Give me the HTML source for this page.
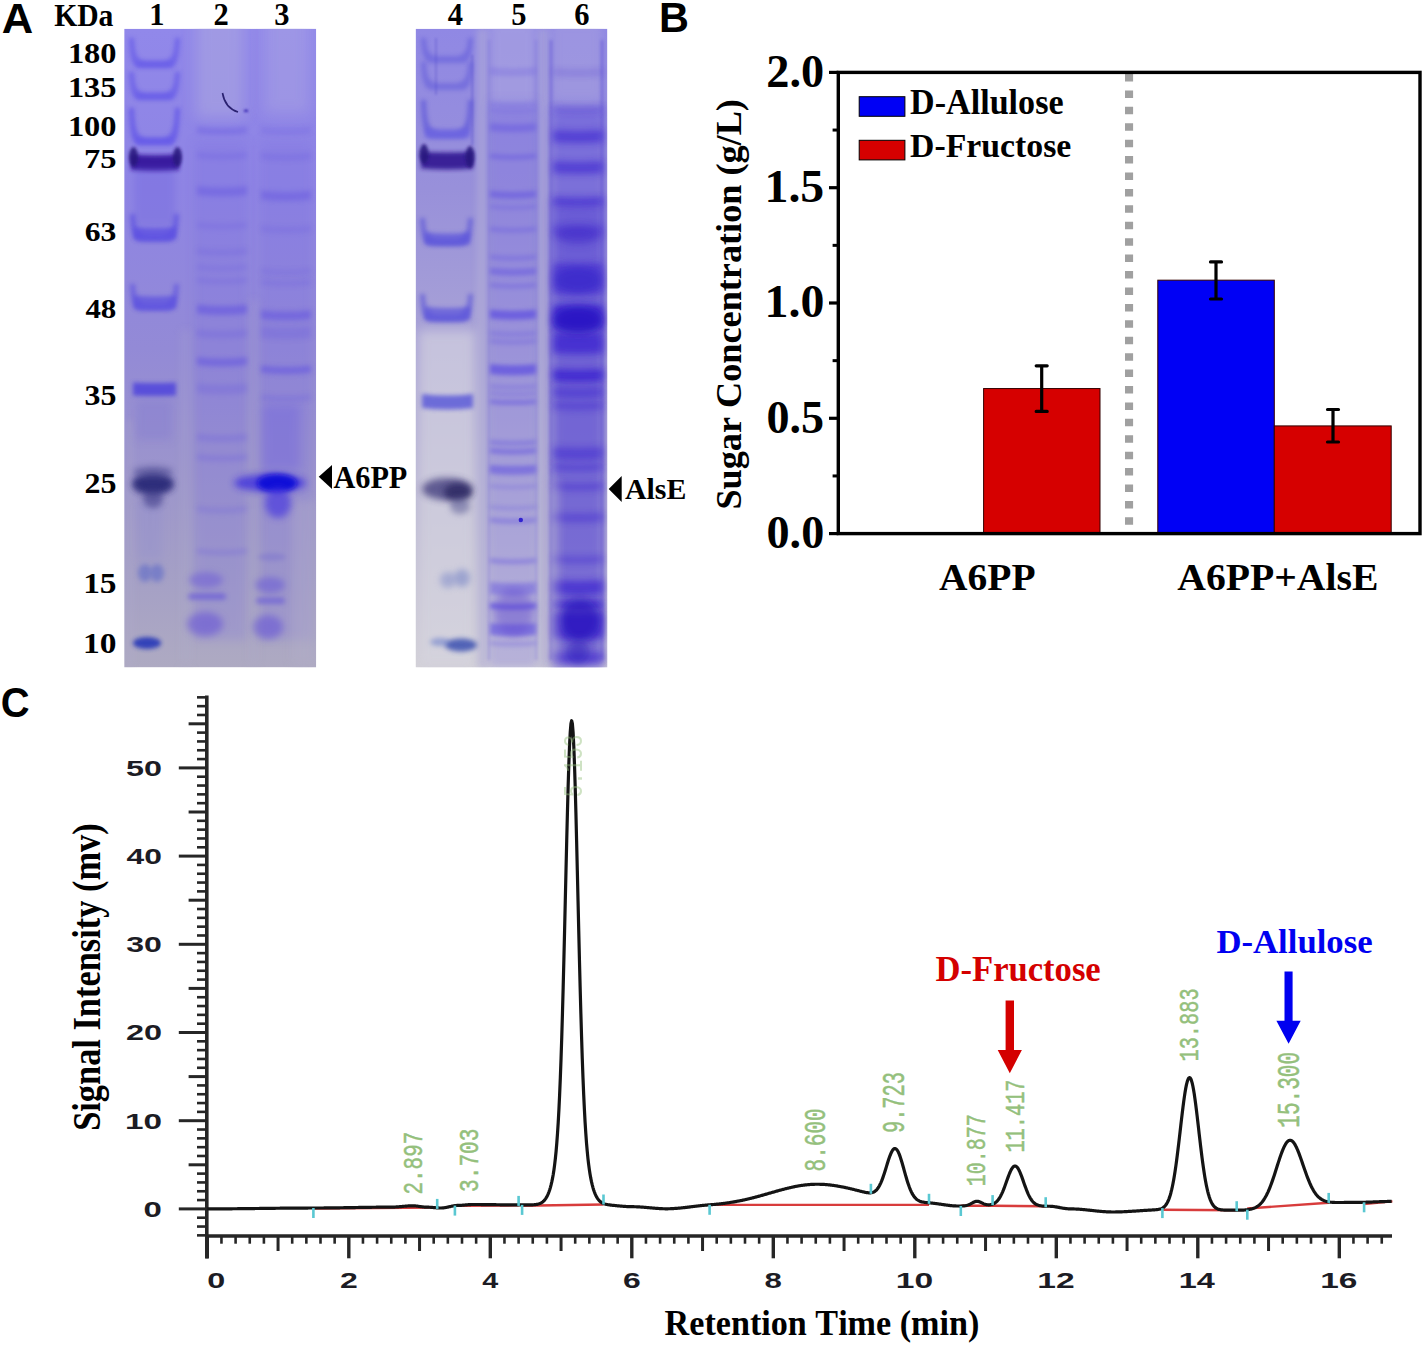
<!DOCTYPE html>
<html><head><meta charset="utf-8"><style>
html,body{margin:0;padding:0;background:#fff;width:1425px;height:1346px;overflow:hidden}
svg{display:block}
</style></head><body>
<svg width="1425" height="1346" viewBox="0 0 1425 1346">
<rect width="1425" height="1346" fill="#fff"/>
<text transform="translate(1.72,33.00) scale(1.0151,1)" style='font-family:"Liberation Sans", sans-serif;font-weight:bold;font-size:42.88px;font-kerning:none' fill="#000" >A</text>
<text transform="translate(659.12,32.00) scale(0.9610,1)" style='font-family:"Liberation Sans", sans-serif;font-weight:bold;font-size:43.17px;font-kerning:none' fill="#000" >B</text>
<text transform="translate(0.86,716.50) scale(0.9471,1)" style='font-family:"Liberation Sans", sans-serif;font-weight:bold;font-size:42.15px;font-kerning:none' fill="#000" >C</text>
<text transform="translate(54.19,26.00) scale(0.9513,1)" style='font-family:"Liberation Serif", serif;font-weight:bold;font-size:31.15px;font-kerning:none' fill="#000" >KDa</text>
<text transform="translate(149.24,24.50) scale(1.0000,1)" style='font-family:"Liberation Serif", serif;font-weight:bold;font-size:30.53px;font-kerning:none' fill="#000" >1</text>
<text transform="translate(213.38,24.50) scale(1.0000,1)" style='font-family:"Liberation Serif", serif;font-weight:bold;font-size:30.53px;font-kerning:none' fill="#000" >2</text>
<text transform="translate(274.32,24.50) scale(1.0000,1)" style='font-family:"Liberation Serif", serif;font-weight:bold;font-size:30.53px;font-kerning:none' fill="#000" >3</text>
<text transform="translate(447.84,24.50) scale(1.0000,1)" style='font-family:"Liberation Serif", serif;font-weight:bold;font-size:30.53px;font-kerning:none' fill="#000" >4</text>
<text transform="translate(511.32,24.50) scale(1.0000,1)" style='font-family:"Liberation Serif", serif;font-weight:bold;font-size:30.53px;font-kerning:none' fill="#000" >5</text>
<text transform="translate(574.29,24.50) scale(1.0000,1)" style='font-family:"Liberation Serif", serif;font-weight:bold;font-size:30.53px;font-kerning:none' fill="#000" >6</text>
<text transform="translate(67.90,63.20) scale(1.0944,1)" style='font-family:"Liberation Serif", serif;font-weight:bold;font-size:29.62px;font-kerning:none' fill="#000" >180</text>
<text transform="translate(67.91,96.80) scale(1.0988,1)" style='font-family:"Liberation Serif", serif;font-weight:bold;font-size:29.47px;font-kerning:none' fill="#000" >135</text>
<text transform="translate(67.90,136.30) scale(1.1000,1)" style='font-family:"Liberation Serif", serif;font-weight:bold;font-size:29.47px;font-kerning:none' fill="#000" >100</text>
<text transform="translate(83.94,168.40) scale(1.1576,1)" style='font-family:"Liberation Serif", serif;font-weight:bold;font-size:28.12px;font-kerning:none' fill="#000" >75</text>
<text transform="translate(84.72,241.40) scale(1.1260,1)" style='font-family:"Liberation Serif", serif;font-weight:bold;font-size:28.12px;font-kerning:none' fill="#000" >63</text>
<text transform="translate(85.38,318.00) scale(1.1007,1)" style='font-family:"Liberation Serif", serif;font-weight:bold;font-size:28.12px;font-kerning:none' fill="#000" >48</text>
<text transform="translate(84.60,404.50) scale(1.0595,1)" style='font-family:"Liberation Serif", serif;font-weight:bold;font-size:30.08px;font-kerning:none' fill="#000" >35</text>
<text transform="translate(84.46,492.60) scale(1.0593,1)" style='font-family:"Liberation Serif", serif;font-weight:bold;font-size:30.23px;font-kerning:none' fill="#000" >25</text>
<text transform="translate(83.13,593.00) scale(1.1689,1)" style='font-family:"Liberation Serif", serif;font-weight:bold;font-size:28.57px;font-kerning:none' fill="#000" >15</text>
<text transform="translate(83.12,653.00) scale(1.1709,1)" style='font-family:"Liberation Serif", serif;font-weight:bold;font-size:28.57px;font-kerning:none' fill="#000" >10</text>
<path d="M318.7,476.8 L332,465 L332,488.9 Z" fill="#000"/>
<text transform="translate(333.40,487.50) scale(0.9812,1)" style='font-family:"Liberation Serif", serif;font-weight:bold;font-size:30.84px;font-kerning:none' fill="#000" >A6PP</text>
<path d="M608.7,489.1 L621.7,476.1 L621.7,502.1 Z" fill="#000"/>
<text transform="translate(624.91,498.60) scale(0.9983,1)" style='font-family:"Liberation Serif", serif;font-weight:bold;font-size:29.92px;font-kerning:none' fill="#000" >AlsE</text>
<defs><clipPath id="cg1"><rect x="124.2" y="28.7" width="192.0" height="638.6999999999999"/></clipPath><clipPath id="cg2"><rect x="415.6" y="28.7" width="191.79999999999995" height="638.6999999999999"/></clipPath><linearGradient id="g1bg" x1="0" y1="0" x2="0" y2="1"><stop offset="0" stop-color="#9188ea"/><stop offset="0.25" stop-color="#8e84e4"/><stop offset="0.5" stop-color="#938ad6"/><stop offset="0.7" stop-color="#9c95cc"/><stop offset="0.85" stop-color="#a49fc6"/><stop offset="1" stop-color="#aeaac2"/></linearGradient><linearGradient id="g1gap" x1="0" y1="0" x2="0" y2="1"><stop offset="0" stop-color="#9890e0"/><stop offset="0.4" stop-color="#a19ad4"/><stop offset="1" stop-color="#b2aec8"/></linearGradient><linearGradient id="g1lane" x1="0" y1="0" x2="0" y2="1"><stop offset="0" stop-color="#7464e0"/><stop offset="1" stop-color="#7464e0"/></linearGradient><linearGradient id="g2bg" x1="0" y1="0" x2="0" y2="1"><stop offset="0" stop-color="#9088e4"/><stop offset="0.25" stop-color="#9890da"/><stop offset="0.5" stop-color="#a9a3d6"/><stop offset="0.75" stop-color="#bcb9d4"/><stop offset="1" stop-color="#d2d0d6"/></linearGradient><filter id="b0_6" filterUnits="userSpaceOnUse" x="110" y="20" width="510" height="660"><feGaussianBlur stdDeviation="0.6"/></filter><filter id="b0_8" filterUnits="userSpaceOnUse" x="110" y="20" width="510" height="660"><feGaussianBlur stdDeviation="0.8"/></filter><filter id="b1" filterUnits="userSpaceOnUse" x="110" y="20" width="510" height="660"><feGaussianBlur stdDeviation="1"/></filter><filter id="b1_5" filterUnits="userSpaceOnUse" x="110" y="20" width="510" height="660"><feGaussianBlur stdDeviation="1.5"/></filter><filter id="b1_8" filterUnits="userSpaceOnUse" x="110" y="20" width="510" height="660"><feGaussianBlur stdDeviation="1.8"/></filter><filter id="b2" filterUnits="userSpaceOnUse" x="110" y="20" width="510" height="660"><feGaussianBlur stdDeviation="2"/></filter><filter id="b2_2" filterUnits="userSpaceOnUse" x="110" y="20" width="510" height="660"><feGaussianBlur stdDeviation="2.2"/></filter><filter id="b2_4" filterUnits="userSpaceOnUse" x="110" y="20" width="510" height="660"><feGaussianBlur stdDeviation="2.4"/></filter><filter id="b2_5" filterUnits="userSpaceOnUse" x="110" y="20" width="510" height="660"><feGaussianBlur stdDeviation="2.5"/></filter><filter id="b3" filterUnits="userSpaceOnUse" x="110" y="20" width="510" height="660"><feGaussianBlur stdDeviation="3"/></filter><filter id="b3_5" filterUnits="userSpaceOnUse" x="110" y="20" width="510" height="660"><feGaussianBlur stdDeviation="3.5"/></filter><filter id="b4" filterUnits="userSpaceOnUse" x="110" y="20" width="510" height="660"><feGaussianBlur stdDeviation="4"/></filter><filter id="b5" filterUnits="userSpaceOnUse" x="110" y="20" width="510" height="660"><feGaussianBlur stdDeviation="5"/></filter><filter id="b6" filterUnits="userSpaceOnUse" x="110" y="20" width="510" height="660"><feGaussianBlur stdDeviation="6"/></filter><filter id="b7" filterUnits="userSpaceOnUse" x="110" y="20" width="510" height="660"><feGaussianBlur stdDeviation="7"/></filter></defs><g clip-path="url(#cg1)">
<rect x="124.2" y="28.7" width="192.0" height="638.6999999999999" fill="url(#g1bg)" opacity="1.0"/>
<rect x="196" y="10" width="48" height="108" fill="#aaa5e0" opacity="0.6" filter="url(#b7)"/>
<rect x="264" y="10" width="46" height="104" fill="#a9a3e2" opacity="0.5" filter="url(#b7)"/>
<rect x="194" y="140" width="53" height="500" fill="#7a6ee0" opacity="0.22" filter="url(#b5)"/>
<rect x="260" y="140" width="52" height="500" fill="#7a6ee0" opacity="0.22" filter="url(#b5)"/>
<rect x="181" y="330" width="10" height="338" fill="#b4b0cc" opacity="0.2" filter="url(#b4)"/>
<rect x="249" y="300" width="9" height="368" fill="#b0accc" opacity="0.22" filter="url(#b4)"/>
<rect x="126" y="420" width="7" height="248" fill="#b0accc" opacity="0.3" filter="url(#b3)"/>
<rect x="292" y="500" width="24" height="168" fill="#b2aec8" opacity="0.4" filter="url(#b5)"/>
<path d="M129,38 C130,62 133,68 141,68 L168,68 C176,68 179,62 180,38 L175,38 C174,60 170,62 154.5,61 C139,62 135,60 134,38 Z" fill="#5a4ee8" opacity="0.55" filter="url(#b2_2)"/>
<rect x="136" y="61.0" width="37" height="6" rx="3.0" fill="#6458ea" opacity="0.44000000000000006" filter="url(#b2)"/>
<path d="M129,72 C130,94 133,100 141,100 L168,100 C176,100 179,94 180,72 L175,72 C174,92 170,94 154.5,93 C139,94 135,92 134,72 Z" fill="#5a4ee8" opacity="0.55" filter="url(#b2_2)"/>
<rect x="136" y="93.0" width="37" height="6" rx="3.0" fill="#6458ea" opacity="0.44000000000000006" filter="url(#b2)"/>
<path d="M129,108 C130,139 133,145 141,145 L168,145 C176,145 179,139 180,108 L175,108 C174,137 170,139 154.5,138 C139,139 135,137 134,108 Z" fill="#5a4ee8" opacity="0.65" filter="url(#b2_2)"/>
<rect x="136" y="138.0" width="37" height="6" rx="3.0" fill="#6458ea" opacity="0.52" filter="url(#b2)"/>
<path d="M131,154.0 Q155.0,156.4 179,154.0 L179,170.0 Q155.0,172.4 131,170.0 Z" fill="#36189c" opacity="0.95" filter="url(#b2)"/>
<ellipse cx="133.5" cy="157" rx="4.5" ry="10" fill="#28127c" opacity="0.85" filter="url(#b1_8)"/>
<ellipse cx="177.5" cy="157" rx="4.5" ry="10" fill="#28127c" opacity="0.85" filter="url(#b1_8)"/>
<rect x="134" y="168" width="41" height="58" fill="#6a5ee0" opacity="0.3" filter="url(#b3)"/>
<rect x="138" y="500" width="24" height="60" fill="#8a88d0" opacity="0.25" filter="url(#b4)"/>
<path d="M130,214 C131,236 134,242 142,242 L167,242 C175,242 178,236 179,214 L174,214 C173,234 169,236 154.5,235 C140,236 136,234 135,214 Z" fill="#5448e0" opacity="0.6" filter="url(#b2_2)"/>
<path d="M134,227.0 Q155.0,229.0 176,227.0 L176,239.0 Q155.0,241.0 134,239.0 Z" fill="#5a4ee2" opacity="0.75" filter="url(#b2_2)"/>
<path d="M130,284 C131,305 134,311 142,311 L167,311 C175,311 178,305 179,284 L174,284 C173,303 169,305 154.5,304 C140,305 136,303 135,284 Z" fill="#5448e0" opacity="0.55" filter="url(#b2_2)"/>
<path d="M134,295.5 Q155.0,297.5 176,295.5 L176,308.5 Q155.0,310.5 134,308.5 Z" fill="#5a50e0" opacity="0.7" filter="url(#b2_2)"/>
<path d="M133,382.5 Q154.5,383.5 176,382.5 L176,395.5 Q154.5,396.5 133,395.5 Z" fill="#5044dc" opacity="0.85" filter="url(#b2)"/>
<rect x="136" y="400" width="36" height="40" fill="#8078d0" opacity="0.35" filter="url(#b4)"/>
<ellipse cx="153" cy="484" rx="21" ry="11" fill="#2c2a78" opacity="0.95" filter="url(#b3)"/>
<ellipse cx="153" cy="472" rx="20" ry="6" fill="#484690" opacity="0.55" filter="url(#b3)"/>
<ellipse cx="153" cy="499" rx="10" ry="9" fill="#3c3a88" opacity="0.6" filter="url(#b3)"/>
<ellipse cx="145" cy="573" rx="7" ry="9" fill="#6c74c8" opacity="0.75" filter="url(#b2_5)"/>
<ellipse cx="157" cy="573" rx="7" ry="9" fill="#6c74c8" opacity="0.75" filter="url(#b2_5)"/>
<ellipse cx="147" cy="643" rx="14" ry="6" fill="#2838b8" opacity="0.9" filter="url(#b2_2)"/>
<path d="M222.5,93 Q225,108 238,112" stroke="#2a2070" stroke-width="1.6" fill="none" filter="url(#b0_6)"/>
<ellipse cx="246" cy="110.8" rx="2.5" ry="1.5" fill="#3828b0" opacity="0.8" filter="url(#b0_8)"/>
<path d="M197,126.19999999999999 Q222.0,129.2 247,126.19999999999999 L247,133.2 Q222.0,136.2 197,133.2 Z" fill="#6454e0" opacity="0.36000000000000004" filter="url(#b2_4)"/>
<path d="M197,152.0 Q222.0,155.0 247,152.0 L247,158.0 Q222.0,161.0 197,158.0 Z" fill="#6454e0" opacity="0.24" filter="url(#b2_4)"/>
<path d="M197,186.0 Q222.0,189.0 247,186.0 L247,195.0 Q222.0,198.0 197,195.0 Z" fill="#6454e0" opacity="0.44000000000000006" filter="url(#b2_4)"/>
<path d="M197,222.0 Q222.0,225.0 247,222.0 L247,228.0 Q222.0,231.0 197,228.0 Z" fill="#6454e0" opacity="0.2" filter="url(#b2_4)"/>
<path d="M197,248.0 Q222.0,251.0 247,248.0 L247,254.0 Q222.0,257.0 197,254.0 Z" fill="#6454e0" opacity="0.2" filter="url(#b2_4)"/>
<path d="M197,264.5 Q222.0,267.5 247,264.5 L247,269.5 Q222.0,272.5 197,269.5 Z" fill="#6454e0" opacity="0.2" filter="url(#b2_4)"/>
<path d="M197,277.5 Q222.0,280.5 247,277.5 L247,282.5 Q222.0,285.5 197,282.5 Z" fill="#6454e0" opacity="0.22400000000000003" filter="url(#b2_4)"/>
<path d="M197,304.5 Q222.0,307.5 247,304.5 L247,313.5 Q222.0,316.5 197,313.5 Z" fill="#6454e0" opacity="0.6000000000000001" filter="url(#b2_4)"/>
<path d="M197,329.0 Q222.0,332.0 247,329.0 L247,337.0 Q222.0,340.0 197,337.0 Z" fill="#6454e0" opacity="0.24" filter="url(#b2_4)"/>
<path d="M197,357.0 Q222.0,360.0 247,357.0 L247,365.0 Q222.0,368.0 197,365.0 Z" fill="#6454e0" opacity="0.5599999999999999" filter="url(#b2_4)"/>
<path d="M197,383.0 Q222.0,386.0 247,383.0 L247,393.0 Q222.0,396.0 197,393.0 Z" fill="#6454e0" opacity="0.24" filter="url(#b2_4)"/>
<path d="M197,433.5 Q222.0,436.5 247,433.5 L247,440.5 Q222.0,443.5 197,440.5 Z" fill="#6454e0" opacity="0.24" filter="url(#b2_4)"/>
<path d="M197,454.0 Q222.0,457.0 247,454.0 L247,460.0 Q222.0,463.0 197,460.0 Z" fill="#6454e0" opacity="0.24" filter="url(#b2_4)"/>
<path d="M197,506.0 Q222.0,509.0 247,506.0 L247,512.0 Q222.0,515.0 197,512.0 Z" fill="#6454e0" opacity="0.2" filter="url(#b2_4)"/>
<path d="M197,548.5 Q222.0,551.5 247,548.5 L247,553.5 Q222.0,556.5 197,553.5 Z" fill="#6454e0" opacity="0.24" filter="url(#b2_4)"/>
<ellipse cx="206" cy="580" rx="17" ry="8" fill="#6a58d8" opacity="0.5" filter="url(#b3)"/>
<rect x="188" y="593.5" width="38" height="6" rx="3.0" fill="#5a48dc" opacity="0.6" filter="url(#b2_4)"/>
<ellipse cx="205" cy="624" rx="18" ry="12" fill="#6450d8" opacity="0.55" filter="url(#b3_5)"/>
<path d="M261,127.0 Q286.0,130.0 311,127.0 L311,133.0 Q286.0,136.0 261,133.0 Z" fill="#6454e0" opacity="0.24" filter="url(#b2_4)"/>
<path d="M261,153.0 Q286.0,156.0 311,153.0 L311,159.0 Q286.0,162.0 261,159.0 Z" fill="#6454e0" opacity="0.24" filter="url(#b2_4)"/>
<path d="M261,190.5 Q286.0,193.5 311,190.5 L311,199.5 Q286.0,202.5 261,199.5 Z" fill="#6454e0" opacity="0.44000000000000006" filter="url(#b2_4)"/>
<path d="M261,225.4 Q286.0,228.4 311,225.4 L311,231.4 Q286.0,234.4 261,231.4 Z" fill="#6454e0" opacity="0.2" filter="url(#b2_4)"/>
<path d="M261,268.5 Q286.0,271.5 311,268.5 L311,273.5 Q286.0,276.5 261,273.5 Z" fill="#6454e0" opacity="0.2" filter="url(#b2_4)"/>
<path d="M261,279.5 Q286.0,282.5 311,279.5 L311,284.5 Q286.0,287.5 261,284.5 Z" fill="#6454e0" opacity="0.22400000000000003" filter="url(#b2_4)"/>
<path d="M261,310.1 Q286.0,313.1 311,310.1 L311,319.1 Q286.0,322.1 261,319.1 Z" fill="#6454e0" opacity="0.5599999999999999" filter="url(#b2_4)"/>
<path d="M261,326.0 Q286.0,329.0 311,326.0 L311,338.0 Q286.0,341.0 261,338.0 Z" fill="#6454e0" opacity="0.24" filter="url(#b2_4)"/>
<path d="M261,365.5 Q286.0,368.5 311,365.5 L311,372.5 Q286.0,375.5 261,372.5 Z" fill="#6454e0" opacity="0.6000000000000001" filter="url(#b2_4)"/>
<path d="M261,394.0 Q286.0,397.0 311,394.0 L311,400.0 Q286.0,403.0 261,400.0 Z" fill="#6454e0" opacity="0.22400000000000003" filter="url(#b2_4)"/>
<rect x="262" y="405" width="38" height="65" fill="#6a5ce0" opacity="0.35" filter="url(#b5)"/>
<ellipse cx="270" cy="483" rx="36" ry="9" fill="#3020e0" opacity="0.7" filter="url(#b3_5)"/>
<ellipse cx="277" cy="483" rx="20" ry="9" fill="#1008d8" opacity="0.95" filter="url(#b2_5)"/>
<ellipse cx="278" cy="503" rx="13" ry="15" fill="#4434e0" opacity="0.65" filter="url(#b3_5)"/>
<ellipse cx="272" cy="557" rx="14" ry="4" fill="#6a60d0" opacity="0.3" filter="url(#b2)"/>
<ellipse cx="270" cy="585" rx="15" ry="8" fill="#6452d8" opacity="0.5" filter="url(#b3)"/>
<rect x="256" y="597.7" width="29" height="6" rx="3.0" fill="#5a48dc" opacity="0.55" filter="url(#b2_4)"/>
<ellipse cx="268" cy="627" rx="15" ry="12" fill="#6250d8" opacity="0.55" filter="url(#b3_5)"/>
</g>
<g clip-path="url(#cg2)">
<rect x="415.6" y="28.7" width="191.79999999999995" height="638.6999999999999" fill="url(#g2bg)" opacity="1.0"/>
<rect x="418" y="330" width="58" height="338" fill="#d6d4e0" opacity="0.65" filter="url(#b6)"/>
<rect x="477" y="28" width="11" height="640" fill="#b2aed8" opacity="0.55" filter="url(#b3)"/>
<rect x="538" y="28" width="11" height="640" fill="#b4b0d6" opacity="0.5" filter="url(#b3)"/>
<rect x="490" y="22" width="46" height="88" fill="#b0aae0" opacity="0.5" filter="url(#b5)"/>
<rect x="552" y="22" width="50" height="78" fill="#aaa4de" opacity="0.45" filter="url(#b5)"/>
<rect x="552" y="110" width="52" height="558" fill="#5a48d8" opacity="0.45" filter="url(#b5)"/>
<rect x="553" y="200" width="50" height="468" fill="#4a34d0" opacity="0.35" filter="url(#b6)"/>
<rect x="489" y="100" width="48" height="568" fill="#7a6ee0" opacity="0.3" filter="url(#b4)"/>
<rect x="488" y="40" width="2" height="620" fill="#6a5ad8" opacity="0.3" filter="url(#b1_5)"/>
<rect x="535" y="40" width="2" height="620" fill="#6a5ad8" opacity="0.3" filter="url(#b1_5)"/>
<rect x="549.8" y="40" width="2.400000000000091" height="620" fill="#4a38d0" opacity="0.4" filter="url(#b1_5)"/>
<rect x="600.8" y="40" width="2.400000000000091" height="620" fill="#4a38d0" opacity="0.4" filter="url(#b1_5)"/>
<rect x="435" y="38" width="2" height="57" fill="#4a40c8" opacity="0.28" filter="url(#b1)"/>
<rect x="471" y="55" width="2.5" height="90" fill="#4a40c8" opacity="0.3" filter="url(#b1)"/>
<path d="M421,38 C422,57 425,63 433,63 L461,63 C469,63 472,57 473,38 L468,38 C467,55 463,57 447.0,56 C431,57 427,55 426,38 Z" fill="#5048d8" opacity="0.4" filter="url(#b2_2)"/>
<path d="M421,62 C422,84 425,90 433,90 L461,90 C469,90 472,84 473,62 L468,62 C467,82 463,84 447.0,83 C431,84 427,82 426,62 Z" fill="#5048d8" opacity="0.4" filter="url(#b2_2)"/>
<path d="M421,100 C422,132 425,138 433,138 L461,138 C469,138 472,132 473,100 L468,100 C467,130 463,132 447.0,131 C431,132 427,130 426,100 Z" fill="#5048d8" opacity="0.55" filter="url(#b2_2)"/>
<path d="M425,128.0 Q447.5,130.0 470,128.0 L470,138.0 Q447.5,140.0 425,138.0 Z" fill="#6a62e4" opacity="0.55" filter="url(#b2)"/>
<path d="M421,151.5 Q447.0,153.5 473,151.5 L473,168.5 Q447.0,170.5 421,168.5 Z" fill="#361a94" opacity="0.95" filter="url(#b2)"/>
<ellipse cx="424" cy="154" rx="4.5" ry="10" fill="#28127c" opacity="0.85" filter="url(#b1_8)"/>
<ellipse cx="470" cy="157" rx="4.5" ry="11" fill="#28127c" opacity="0.85" filter="url(#b1_8)"/>
<path d="M420,218 C421,240 424,246 432,246 L461,246 C469,246 472,240 473,218 L468,218 C467,238 463,240 446.5,239 C430,240 426,238 425,218 Z" fill="#5048d8" opacity="0.55" filter="url(#b2_2)"/>
<path d="M425,232.0 Q447.5,235.0 470,232.0 L470,244.0 Q447.5,247.0 425,244.0 Z" fill="#5a52dc" opacity="0.7" filter="url(#b2_2)"/>
<path d="M420,294 C421,316 424,322 432,322 L461,322 C469,322 472,316 473,294 L468,294 C467,314 463,316 446.5,315 C430,316 426,314 425,294 Z" fill="#5048d8" opacity="0.55" filter="url(#b2_2)"/>
<path d="M425,306.5 Q447.5,309.5 470,306.5 L470,319.5 Q447.5,322.5 425,319.5 Z" fill="#5a52dc" opacity="0.7" filter="url(#b2_2)"/>
<path d="M422,394.0 Q447.5,397.0 473,394.0 L473,408.0 Q447.5,411.0 422,408.0 Z" fill="#5654d8" opacity="0.8" filter="url(#b2_2)"/>
<ellipse cx="447" cy="489" rx="25" ry="11" fill="#3a3678" opacity="0.75" filter="url(#b3_5)"/>
<ellipse cx="458" cy="492" rx="14" ry="9" fill="#2a2860" opacity="0.8" filter="url(#b3)"/>
<ellipse cx="460" cy="506" rx="10" ry="8" fill="#50508e" opacity="0.5" filter="url(#b3)"/>
<ellipse cx="448" cy="580" rx="8" ry="8" fill="#8a94cc" opacity="0.6" filter="url(#b3)"/>
<ellipse cx="462" cy="578" rx="8" ry="9" fill="#7c88c8" opacity="0.6" filter="url(#b3)"/>
<ellipse cx="461" cy="645" rx="16" ry="6.5" fill="#3a50b0" opacity="0.85" filter="url(#b2_5)"/>
<ellipse cx="440" cy="642" rx="10" ry="4" fill="#5a70c8" opacity="0.5" filter="url(#b2_5)"/>
<path d="M490,67.5 Q513.0,69.9 536,67.5 L536,70.5 Q513.0,72.9 490,70.5 Z" fill="#6454e0" opacity="0.3" filter="url(#b2)"/>
<path d="M490,71.5 Q513.0,73.9 536,71.5 L536,74.5 Q513.0,76.9 490,74.5 Z" fill="#6454e0" opacity="0.3" filter="url(#b2)"/>
<path d="M490,102.0 Q513.0,104.4 536,102.0 L536,106.0 Q513.0,108.4 490,106.0 Z" fill="#6454e0" opacity="0.25" filter="url(#b2)"/>
<path d="M490,108.0 Q513.0,110.4 536,108.0 L536,112.0 Q513.0,114.4 490,112.0 Z" fill="#6454e0" opacity="0.25" filter="url(#b2)"/>
<path d="M490,123.0 Q513.0,125.4 536,123.0 L536,131.0 Q513.0,133.4 490,131.0 Z" fill="#6454e0" opacity="0.45" filter="url(#b2)"/>
<path d="M490,153.5 Q513.0,155.9 536,153.5 L536,158.5 Q513.0,160.9 490,158.5 Z" fill="#6454e0" opacity="0.45" filter="url(#b2)"/>
<path d="M490,190.5 Q513.0,192.9 536,190.5 L536,197.5 Q513.0,199.9 490,197.5 Z" fill="#6454e0" opacity="0.55" filter="url(#b2)"/>
<path d="M490,204.5 Q513.0,206.9 536,204.5 L536,208.5 Q513.0,210.9 490,208.5 Z" fill="#6454e0" opacity="0.3" filter="url(#b2)"/>
<path d="M490,226.5 Q513.0,228.9 536,226.5 L536,231.5 Q513.0,233.9 490,231.5 Z" fill="#6454e0" opacity="0.35" filter="url(#b2)"/>
<path d="M490,254.5 Q513.0,256.9 536,254.5 L536,259.5 Q513.0,261.9 490,259.5 Z" fill="#6454e0" opacity="0.35" filter="url(#b2)"/>
<path d="M490,267.5 Q513.0,269.9 536,267.5 L536,274.5 Q513.0,276.9 490,274.5 Z" fill="#6454e0" opacity="0.5" filter="url(#b2)"/>
<path d="M490,282.5 Q513.0,284.9 536,282.5 L536,287.5 Q513.0,289.9 490,287.5 Z" fill="#6454e0" opacity="0.35" filter="url(#b2)"/>
<path d="M490,309.5 Q513.0,311.9 536,309.5 L536,318.5 Q513.0,320.9 490,318.5 Z" fill="#6454e0" opacity="0.8" filter="url(#b2)"/>
<path d="M490,330.5 Q513.0,332.9 536,330.5 L536,335.5 Q513.0,337.9 490,335.5 Z" fill="#6454e0" opacity="0.3" filter="url(#b2)"/>
<path d="M490,338.5 Q513.0,340.9 536,338.5 L536,343.5 Q513.0,345.9 490,343.5 Z" fill="#6454e0" opacity="0.3" filter="url(#b2)"/>
<path d="M490,364.0 Q513.0,366.4 536,364.0 L536,374.0 Q513.0,376.4 490,374.0 Z" fill="#6454e0" opacity="0.8" filter="url(#b2)"/>
<path d="M490,384.0 Q513.0,386.4 536,384.0 L536,388.0 Q513.0,390.4 490,388.0 Z" fill="#6454e0" opacity="0.3" filter="url(#b2)"/>
<path d="M490,391.0 Q513.0,393.4 536,391.0 L536,395.0 Q513.0,397.4 490,395.0 Z" fill="#6454e0" opacity="0.3" filter="url(#b2)"/>
<path d="M490,398.9 Q513.0,401.29999999999995 536,398.9 L536,403.9 Q513.0,406.29999999999995 490,403.9 Z" fill="#6454e0" opacity="0.5" filter="url(#b2)"/>
<path d="M490,439.5 Q513.0,441.9 536,439.5 L536,444.5 Q513.0,446.9 490,444.5 Z" fill="#6454e0" opacity="0.4" filter="url(#b2)"/>
<path d="M490,447.5 Q513.0,449.9 536,447.5 L536,453.5 Q513.0,455.9 490,453.5 Z" fill="#6454e0" opacity="0.5" filter="url(#b2)"/>
<path d="M490,464.4 Q513.0,466.79999999999995 536,464.4 L536,470.4 Q513.0,472.79999999999995 490,470.4 Z" fill="#6454e0" opacity="0.5" filter="url(#b2)"/>
<path d="M490,468.0 Q513.0,470.4 536,468.0 L536,474.0 Q513.0,476.4 490,474.0 Z" fill="#6454e0" opacity="0.45" filter="url(#b2)"/>
<path d="M490,484.0 Q513.0,486.4 536,484.0 L536,488.0 Q513.0,490.4 490,488.0 Z" fill="#6454e0" opacity="0.25" filter="url(#b2)"/>
<path d="M490,505.0 Q513.0,507.4 536,505.0 L536,509.0 Q513.0,511.4 490,509.0 Z" fill="#6454e0" opacity="0.25" filter="url(#b2)"/>
<path d="M490,517.5 Q513.0,519.9 536,517.5 L536,522.5 Q513.0,524.9 490,522.5 Z" fill="#6454e0" opacity="0.4" filter="url(#b2)"/>
<path d="M490,558.0 Q513.0,560.4 536,558.0 L536,563.0 Q513.0,565.4 490,563.0 Z" fill="#6454e0" opacity="0.4" filter="url(#b2)"/>
<path d="M490,582.0 Q513.0,584.4 536,582.0 L536,594.0 Q513.0,596.4 490,594.0 Z" fill="#6454e0" opacity="0.45" filter="url(#b2)"/>
<path d="M490,602.7 Q513.0,605.1 536,602.7 L536,608.7 Q513.0,611.1 490,608.7 Z" fill="#6454e0" opacity="0.75" filter="url(#b2)"/>
<path d="M490,623.0 Q513.0,625.4 536,623.0 L536,635.0 Q513.0,637.4 490,635.0 Z" fill="#6454e0" opacity="0.65" filter="url(#b2)"/>
<path d="M490,641.0 Q513.0,643.4 536,641.0 L536,645.0 Q513.0,647.4 490,645.0 Z" fill="#6454e0" opacity="0.3" filter="url(#b2)"/>
<ellipse cx="520.8" cy="520" rx="2.2" ry="2.2" fill="#3020d0" opacity="1" filter="url(#b0_6)"/>
<ellipse cx="514" cy="612" rx="20" ry="24" fill="#6048d0" opacity="0.45" filter="url(#b4)"/>
<path d="M553,70.0 Q578.0,72.0 603,70.0 L603,74.0 Q578.0,76.0 553,74.0 Z" fill="#3a20d0" opacity="0.3" filter="url(#b3_5)"/>
<path d="M553,106.5 Q578.0,108.5 603,106.5 L603,111.5 Q578.0,113.5 553,111.5 Z" fill="#3a20d0" opacity="0.4" filter="url(#b3_5)"/>
<path d="M553,130.0 Q578.0,132.0 603,130.0 L603,142.0 Q578.0,144.0 553,142.0 Z" fill="#3a20d0" opacity="0.6" filter="url(#b3_5)"/>
<path d="M553,161.0 Q578.0,163.0 603,161.0 L603,173.0 Q578.0,175.0 553,173.0 Z" fill="#3a20d0" opacity="0.6" filter="url(#b3_5)"/>
<path d="M553,197.5 Q578.0,199.5 603,197.5 L603,204.5 Q578.0,206.5 553,204.5 Z" fill="#3a20d0" opacity="0.65" filter="url(#b3_5)"/>
<path d="M553,225.0 Q578.0,227.0 603,225.0 L603,235.0 Q578.0,237.0 553,235.0 Z" fill="#3a20d0" opacity="0.35" filter="url(#b3_5)"/>
<path d="M553,263.0 Q578.0,265.0 603,263.0 L603,293.0 Q578.0,295.0 553,293.0 Z" fill="#3a20d0" opacity="0.55" filter="url(#b3_5)"/>
<path d="M553,305.0 Q578.0,307.0 603,305.0 L603,329.0 Q578.0,331.0 553,329.0 Z" fill="#3a20d0" opacity="0.8" filter="url(#b3_5)"/>
<path d="M553,333.0 Q578.0,335.0 603,333.0 L603,353.0 Q578.0,355.0 553,353.0 Z" fill="#3a20d0" opacity="0.75" filter="url(#b3_5)"/>
<path d="M553,369.0 Q578.0,371.0 603,369.0 L603,381.0 Q578.0,383.0 553,381.0 Z" fill="#3a20d0" opacity="0.85" filter="url(#b3_5)"/>
<path d="M553,387.0 Q578.0,389.0 603,387.0 L603,397.0 Q578.0,399.0 553,397.0 Z" fill="#3a20d0" opacity="0.5" filter="url(#b3_5)"/>
<path d="M553,402.6 Q578.0,404.6 603,402.6 L603,408.6 Q578.0,410.6 553,408.6 Z" fill="#3a20d0" opacity="0.5" filter="url(#b3_5)"/>
<path d="M553,447.0 Q578.0,449.0 603,447.0 L603,459.0 Q578.0,461.0 553,459.0 Z" fill="#3a20d0" opacity="0.5" filter="url(#b3_5)"/>
<path d="M553,464.0 Q578.0,466.0 603,464.0 L603,470.0 Q578.0,472.0 553,470.0 Z" fill="#3a20d0" opacity="0.5" filter="url(#b3_5)"/>
<path d="M553,483.0 Q578.0,485.0 603,483.0 L603,489.0 Q578.0,491.0 553,489.0 Z" fill="#3a20d0" opacity="0.5" filter="url(#b3_5)"/>
<path d="M553,513.0 Q578.0,515.0 603,513.0 L603,521.0 Q578.0,523.0 553,521.0 Z" fill="#3a20d0" opacity="0.45" filter="url(#b3_5)"/>
<path d="M553,556.0 Q578.0,558.0 603,556.0 L603,562.0 Q578.0,564.0 553,562.0 Z" fill="#3a20d0" opacity="0.45" filter="url(#b3_5)"/>
<path d="M553,580.0 Q578.0,582.0 603,580.0 L603,594.0 Q578.0,596.0 553,594.0 Z" fill="#3a20d0" opacity="0.7" filter="url(#b3_5)"/>
<path d="M553,600.5 Q578.0,602.5 603,600.5 L603,607.5 Q578.0,609.5 553,607.5 Z" fill="#3a20d0" opacity="0.85" filter="url(#b3_5)"/>
<path d="M553,612.0 Q578.0,614.0 603,612.0 L603,638.0 Q578.0,640.0 553,638.0 Z" fill="#3a20d0" opacity="0.75" filter="url(#b3_5)"/>
<path d="M553,652.0 Q578.0,654.0 603,652.0 L603,662.0 Q578.0,664.0 553,662.0 Z" fill="#3a20d0" opacity="0.55" filter="url(#b3_5)"/>
<ellipse cx="578" cy="235" rx="22" ry="9" fill="#3a22c8" opacity="0.5" filter="url(#b4)"/>
<ellipse cx="578" cy="280" rx="24" ry="13" fill="#3020c8" opacity="0.55" filter="url(#b4)"/>
<ellipse cx="578" cy="320" rx="25" ry="14" fill="#2010c0" opacity="0.7" filter="url(#b4)"/>
<ellipse cx="580" cy="620" rx="20" ry="22" fill="#2010b8" opacity="0.6" filter="url(#b5)"/>
<ellipse cx="578" cy="652" rx="12" ry="12" fill="#2818b8" opacity="0.5" filter="url(#b4)"/>
<rect x="549" y="480" width="11" height="188" fill="#b0aad0" opacity="0.35" filter="url(#b4)"/>
</g>
<rect x="983.6" y="388.55" width="116.39999999999998" height="145.05" fill="#d60000" stroke="#300" stroke-width="1"/>
<rect x="1157.8" y="280.17" width="116.5" height="253.43" fill="#0000f5" stroke="#300" stroke-width="1"/>
<rect x="1274.3" y="425.91" width="116.90000000000009" height="107.69" fill="#d60000" stroke="#300" stroke-width="1"/>
<path d="M1041.7,365.8 V411.4 M1036.2,365.8 H1047.2 M1036.2,411.4 H1047.2" stroke="#000" stroke-width="3.2" stroke-linecap="round" fill="none"/>
<path d="M1216,261.9 V299 M1210.5,261.9 H1221.5 M1210.5,299 H1221.5" stroke="#000" stroke-width="3.2" stroke-linecap="round" fill="none"/>
<path d="M1333,409.5 V442 M1327.5,409.5 H1338.5 M1327.5,442 H1338.5" stroke="#000" stroke-width="3.2" stroke-linecap="round" fill="none"/>
<line x1="1129.05" y1="74" x2="1129.05" y2="533.6" stroke="#a0a0a0" stroke-width="8.1" stroke-dasharray="7.5 8.92"/>
<rect x="838.3" y="72.40" width="581.7" height="461.20" fill="none" stroke="#000" stroke-width="3.4"/>
<line x1="829" y1="533.60" x2="838.3" y2="533.60" stroke="#000" stroke-width="3.2"/>
<line x1="829" y1="418.30" x2="838.3" y2="418.30" stroke="#000" stroke-width="3.2"/>
<line x1="829" y1="303.00" x2="838.3" y2="303.00" stroke="#000" stroke-width="3.2"/>
<line x1="829" y1="187.70" x2="838.3" y2="187.70" stroke="#000" stroke-width="3.2"/>
<line x1="829" y1="72.40" x2="838.3" y2="72.40" stroke="#000" stroke-width="3.2"/>
<line x1="832.6" y1="475.95" x2="838.3" y2="475.95" stroke="#000" stroke-width="3"/>
<line x1="832.6" y1="360.65" x2="838.3" y2="360.65" stroke="#000" stroke-width="3"/>
<line x1="832.6" y1="245.35" x2="838.3" y2="245.35" stroke="#000" stroke-width="3"/>
<line x1="832.6" y1="130.05" x2="838.3" y2="130.05" stroke="#000" stroke-width="3"/>
<text transform="translate(766.54,547.80) scale(0.9905,1)" style='font-family:"Liberation Serif", serif;font-weight:bold;font-size:46.62px;font-kerning:none' fill="#000" >0.0</text>
<text transform="translate(766.54,432.50) scale(0.9893,1)" style='font-family:"Liberation Serif", serif;font-weight:bold;font-size:46.62px;font-kerning:none' fill="#000" >0.5</text>
<text transform="translate(764.47,317.20) scale(1.0272,1)" style='font-family:"Liberation Serif", serif;font-weight:bold;font-size:46.62px;font-kerning:none' fill="#000" >1.0</text>
<text transform="translate(764.47,201.90) scale(1.0259,1)" style='font-family:"Liberation Serif", serif;font-weight:bold;font-size:46.62px;font-kerning:none' fill="#000" >1.5</text>
<text transform="translate(766.35,86.60) scale(0.9938,1)" style='font-family:"Liberation Serif", serif;font-weight:bold;font-size:46.62px;font-kerning:none' fill="#000" >2.0</text>
<rect x="859.2" y="96.7" width="45.7" height="19.6" fill="#0000f5" stroke="#000" stroke-width="1"/>
<rect x="859.2" y="140.3" width="45.7" height="19.6" fill="#d60000" stroke="#000" stroke-width="1"/>
<text transform="translate(910.10,113.90) scale(0.9798,1)" style='font-family:"Liberation Serif", serif;font-weight:bold;font-size:34.81px;font-kerning:none' fill="#000" >D-Allulose</text>
<text transform="translate(910.11,157.30) scale(0.9743,1)" style='font-family:"Liberation Serif", serif;font-weight:bold;font-size:34.66px;font-kerning:none' fill="#000" >D-Fructose</text>
<text transform="translate(939.11,590.40) scale(1.0264,1)" style='font-family:"Liberation Serif", serif;font-weight:bold;font-size:38.47px;font-kerning:none' fill="#000" >A6PP</text>
<text transform="translate(1177.31,590.40) scale(1.0311,1)" style='font-family:"Liberation Serif", serif;font-weight:bold;font-size:38.47px;font-kerning:none' fill="#000" >A6PP+AlsE</text>
<text transform="translate(741.00,509.53) rotate(-90) scale(0.9886,1)" style='font-family:"Liberation Serif", serif;font-weight:bold;font-size:36.64px;font-kerning:none' fill="#000" >Sugar Concentration (g/L)</text>
<line x1="206.8" y1="695.6" x2="206.8" y2="1258.5" stroke="#262626" stroke-width="3.6"/>
<line x1="205" y1="1236" x2="1392" y2="1236" stroke="#262626" stroke-width="3.4"/>
<line x1="197" y1="1235.36" x2="206.8" y2="1235.36" stroke="#262626" stroke-width="2.6"/>
<line x1="197" y1="1226.54" x2="206.8" y2="1226.54" stroke="#262626" stroke-width="2.6"/>
<line x1="197" y1="1217.72" x2="206.8" y2="1217.72" stroke="#262626" stroke-width="2.6"/>
<line x1="178.8" y1="1208.90" x2="206.8" y2="1208.90" stroke="#262626" stroke-width="3"/>
<line x1="197" y1="1200.08" x2="206.8" y2="1200.08" stroke="#262626" stroke-width="2.6"/>
<line x1="197" y1="1191.26" x2="206.8" y2="1191.26" stroke="#262626" stroke-width="2.6"/>
<line x1="197" y1="1182.44" x2="206.8" y2="1182.44" stroke="#262626" stroke-width="2.6"/>
<line x1="197" y1="1173.62" x2="206.8" y2="1173.62" stroke="#262626" stroke-width="2.6"/>
<line x1="188.6" y1="1164.80" x2="206.8" y2="1164.80" stroke="#262626" stroke-width="3"/>
<line x1="197" y1="1155.98" x2="206.8" y2="1155.98" stroke="#262626" stroke-width="2.6"/>
<line x1="197" y1="1147.16" x2="206.8" y2="1147.16" stroke="#262626" stroke-width="2.6"/>
<line x1="197" y1="1138.34" x2="206.8" y2="1138.34" stroke="#262626" stroke-width="2.6"/>
<line x1="197" y1="1129.52" x2="206.8" y2="1129.52" stroke="#262626" stroke-width="2.6"/>
<line x1="178.8" y1="1120.70" x2="206.8" y2="1120.70" stroke="#262626" stroke-width="3"/>
<line x1="197" y1="1111.88" x2="206.8" y2="1111.88" stroke="#262626" stroke-width="2.6"/>
<line x1="197" y1="1103.06" x2="206.8" y2="1103.06" stroke="#262626" stroke-width="2.6"/>
<line x1="197" y1="1094.24" x2="206.8" y2="1094.24" stroke="#262626" stroke-width="2.6"/>
<line x1="197" y1="1085.42" x2="206.8" y2="1085.42" stroke="#262626" stroke-width="2.6"/>
<line x1="188.6" y1="1076.60" x2="206.8" y2="1076.60" stroke="#262626" stroke-width="3"/>
<line x1="197" y1="1067.78" x2="206.8" y2="1067.78" stroke="#262626" stroke-width="2.6"/>
<line x1="197" y1="1058.96" x2="206.8" y2="1058.96" stroke="#262626" stroke-width="2.6"/>
<line x1="197" y1="1050.14" x2="206.8" y2="1050.14" stroke="#262626" stroke-width="2.6"/>
<line x1="197" y1="1041.32" x2="206.8" y2="1041.32" stroke="#262626" stroke-width="2.6"/>
<line x1="178.8" y1="1032.50" x2="206.8" y2="1032.50" stroke="#262626" stroke-width="3"/>
<line x1="197" y1="1023.68" x2="206.8" y2="1023.68" stroke="#262626" stroke-width="2.6"/>
<line x1="197" y1="1014.86" x2="206.8" y2="1014.86" stroke="#262626" stroke-width="2.6"/>
<line x1="197" y1="1006.04" x2="206.8" y2="1006.04" stroke="#262626" stroke-width="2.6"/>
<line x1="197" y1="997.22" x2="206.8" y2="997.22" stroke="#262626" stroke-width="2.6"/>
<line x1="188.6" y1="988.40" x2="206.8" y2="988.40" stroke="#262626" stroke-width="3"/>
<line x1="197" y1="979.58" x2="206.8" y2="979.58" stroke="#262626" stroke-width="2.6"/>
<line x1="197" y1="970.76" x2="206.8" y2="970.76" stroke="#262626" stroke-width="2.6"/>
<line x1="197" y1="961.94" x2="206.8" y2="961.94" stroke="#262626" stroke-width="2.6"/>
<line x1="197" y1="953.12" x2="206.8" y2="953.12" stroke="#262626" stroke-width="2.6"/>
<line x1="178.8" y1="944.30" x2="206.8" y2="944.30" stroke="#262626" stroke-width="3"/>
<line x1="197" y1="935.48" x2="206.8" y2="935.48" stroke="#262626" stroke-width="2.6"/>
<line x1="197" y1="926.66" x2="206.8" y2="926.66" stroke="#262626" stroke-width="2.6"/>
<line x1="197" y1="917.84" x2="206.8" y2="917.84" stroke="#262626" stroke-width="2.6"/>
<line x1="197" y1="909.02" x2="206.8" y2="909.02" stroke="#262626" stroke-width="2.6"/>
<line x1="188.6" y1="900.20" x2="206.8" y2="900.20" stroke="#262626" stroke-width="3"/>
<line x1="197" y1="891.38" x2="206.8" y2="891.38" stroke="#262626" stroke-width="2.6"/>
<line x1="197" y1="882.56" x2="206.8" y2="882.56" stroke="#262626" stroke-width="2.6"/>
<line x1="197" y1="873.74" x2="206.8" y2="873.74" stroke="#262626" stroke-width="2.6"/>
<line x1="197" y1="864.92" x2="206.8" y2="864.92" stroke="#262626" stroke-width="2.6"/>
<line x1="178.8" y1="856.10" x2="206.8" y2="856.10" stroke="#262626" stroke-width="3"/>
<line x1="197" y1="847.28" x2="206.8" y2="847.28" stroke="#262626" stroke-width="2.6"/>
<line x1="197" y1="838.46" x2="206.8" y2="838.46" stroke="#262626" stroke-width="2.6"/>
<line x1="197" y1="829.64" x2="206.8" y2="829.64" stroke="#262626" stroke-width="2.6"/>
<line x1="197" y1="820.82" x2="206.8" y2="820.82" stroke="#262626" stroke-width="2.6"/>
<line x1="188.6" y1="812.00" x2="206.8" y2="812.00" stroke="#262626" stroke-width="3"/>
<line x1="197" y1="803.18" x2="206.8" y2="803.18" stroke="#262626" stroke-width="2.6"/>
<line x1="197" y1="794.36" x2="206.8" y2="794.36" stroke="#262626" stroke-width="2.6"/>
<line x1="197" y1="785.54" x2="206.8" y2="785.54" stroke="#262626" stroke-width="2.6"/>
<line x1="197" y1="776.72" x2="206.8" y2="776.72" stroke="#262626" stroke-width="2.6"/>
<line x1="178.8" y1="767.90" x2="206.8" y2="767.90" stroke="#262626" stroke-width="3"/>
<line x1="197" y1="759.08" x2="206.8" y2="759.08" stroke="#262626" stroke-width="2.6"/>
<line x1="197" y1="750.26" x2="206.8" y2="750.26" stroke="#262626" stroke-width="2.6"/>
<line x1="197" y1="741.44" x2="206.8" y2="741.44" stroke="#262626" stroke-width="2.6"/>
<line x1="197" y1="732.62" x2="206.8" y2="732.62" stroke="#262626" stroke-width="2.6"/>
<line x1="188.6" y1="723.80" x2="206.8" y2="723.80" stroke="#262626" stroke-width="3"/>
<line x1="197" y1="714.98" x2="206.8" y2="714.98" stroke="#262626" stroke-width="2.6"/>
<line x1="197" y1="706.16" x2="206.8" y2="706.16" stroke="#262626" stroke-width="2.6"/>
<line x1="197" y1="697.34" x2="206.8" y2="697.34" stroke="#262626" stroke-width="2.6"/>
<line x1="207.30" y1="1236" x2="207.30" y2="1258.3" stroke="#262626" stroke-width="3.4"/>
<line x1="221.45" y1="1236" x2="221.45" y2="1243.7" stroke="#262626" stroke-width="2.6"/>
<line x1="235.60" y1="1236" x2="235.60" y2="1243.7" stroke="#262626" stroke-width="2.6"/>
<line x1="249.75" y1="1236" x2="249.75" y2="1243.7" stroke="#262626" stroke-width="2.6"/>
<line x1="263.90" y1="1236" x2="263.90" y2="1243.7" stroke="#262626" stroke-width="2.6"/>
<line x1="278.05" y1="1236" x2="278.05" y2="1251" stroke="#262626" stroke-width="3"/>
<line x1="292.20" y1="1236" x2="292.20" y2="1243.7" stroke="#262626" stroke-width="2.6"/>
<line x1="306.35" y1="1236" x2="306.35" y2="1243.7" stroke="#262626" stroke-width="2.6"/>
<line x1="320.50" y1="1236" x2="320.50" y2="1243.7" stroke="#262626" stroke-width="2.6"/>
<line x1="334.65" y1="1236" x2="334.65" y2="1243.7" stroke="#262626" stroke-width="2.6"/>
<line x1="348.80" y1="1236" x2="348.80" y2="1258.3" stroke="#262626" stroke-width="3.4"/>
<line x1="362.95" y1="1236" x2="362.95" y2="1243.7" stroke="#262626" stroke-width="2.6"/>
<line x1="377.10" y1="1236" x2="377.10" y2="1243.7" stroke="#262626" stroke-width="2.6"/>
<line x1="391.25" y1="1236" x2="391.25" y2="1243.7" stroke="#262626" stroke-width="2.6"/>
<line x1="405.40" y1="1236" x2="405.40" y2="1243.7" stroke="#262626" stroke-width="2.6"/>
<line x1="419.55" y1="1236" x2="419.55" y2="1251" stroke="#262626" stroke-width="3"/>
<line x1="433.70" y1="1236" x2="433.70" y2="1243.7" stroke="#262626" stroke-width="2.6"/>
<line x1="447.85" y1="1236" x2="447.85" y2="1243.7" stroke="#262626" stroke-width="2.6"/>
<line x1="462.00" y1="1236" x2="462.00" y2="1243.7" stroke="#262626" stroke-width="2.6"/>
<line x1="476.15" y1="1236" x2="476.15" y2="1243.7" stroke="#262626" stroke-width="2.6"/>
<line x1="490.30" y1="1236" x2="490.30" y2="1258.3" stroke="#262626" stroke-width="3.4"/>
<line x1="504.45" y1="1236" x2="504.45" y2="1243.7" stroke="#262626" stroke-width="2.6"/>
<line x1="518.60" y1="1236" x2="518.60" y2="1243.7" stroke="#262626" stroke-width="2.6"/>
<line x1="532.75" y1="1236" x2="532.75" y2="1243.7" stroke="#262626" stroke-width="2.6"/>
<line x1="546.90" y1="1236" x2="546.90" y2="1243.7" stroke="#262626" stroke-width="2.6"/>
<line x1="561.05" y1="1236" x2="561.05" y2="1251" stroke="#262626" stroke-width="3"/>
<line x1="575.20" y1="1236" x2="575.20" y2="1243.7" stroke="#262626" stroke-width="2.6"/>
<line x1="589.35" y1="1236" x2="589.35" y2="1243.7" stroke="#262626" stroke-width="2.6"/>
<line x1="603.50" y1="1236" x2="603.50" y2="1243.7" stroke="#262626" stroke-width="2.6"/>
<line x1="617.65" y1="1236" x2="617.65" y2="1243.7" stroke="#262626" stroke-width="2.6"/>
<line x1="631.80" y1="1236" x2="631.80" y2="1258.3" stroke="#262626" stroke-width="3.4"/>
<line x1="645.95" y1="1236" x2="645.95" y2="1243.7" stroke="#262626" stroke-width="2.6"/>
<line x1="660.10" y1="1236" x2="660.10" y2="1243.7" stroke="#262626" stroke-width="2.6"/>
<line x1="674.25" y1="1236" x2="674.25" y2="1243.7" stroke="#262626" stroke-width="2.6"/>
<line x1="688.40" y1="1236" x2="688.40" y2="1243.7" stroke="#262626" stroke-width="2.6"/>
<line x1="702.55" y1="1236" x2="702.55" y2="1251" stroke="#262626" stroke-width="3"/>
<line x1="716.70" y1="1236" x2="716.70" y2="1243.7" stroke="#262626" stroke-width="2.6"/>
<line x1="730.85" y1="1236" x2="730.85" y2="1243.7" stroke="#262626" stroke-width="2.6"/>
<line x1="745.00" y1="1236" x2="745.00" y2="1243.7" stroke="#262626" stroke-width="2.6"/>
<line x1="759.15" y1="1236" x2="759.15" y2="1243.7" stroke="#262626" stroke-width="2.6"/>
<line x1="773.30" y1="1236" x2="773.30" y2="1258.3" stroke="#262626" stroke-width="3.4"/>
<line x1="787.45" y1="1236" x2="787.45" y2="1243.7" stroke="#262626" stroke-width="2.6"/>
<line x1="801.60" y1="1236" x2="801.60" y2="1243.7" stroke="#262626" stroke-width="2.6"/>
<line x1="815.75" y1="1236" x2="815.75" y2="1243.7" stroke="#262626" stroke-width="2.6"/>
<line x1="829.90" y1="1236" x2="829.90" y2="1243.7" stroke="#262626" stroke-width="2.6"/>
<line x1="844.05" y1="1236" x2="844.05" y2="1251" stroke="#262626" stroke-width="3"/>
<line x1="858.20" y1="1236" x2="858.20" y2="1243.7" stroke="#262626" stroke-width="2.6"/>
<line x1="872.35" y1="1236" x2="872.35" y2="1243.7" stroke="#262626" stroke-width="2.6"/>
<line x1="886.50" y1="1236" x2="886.50" y2="1243.7" stroke="#262626" stroke-width="2.6"/>
<line x1="900.65" y1="1236" x2="900.65" y2="1243.7" stroke="#262626" stroke-width="2.6"/>
<line x1="914.80" y1="1236" x2="914.80" y2="1258.3" stroke="#262626" stroke-width="3.4"/>
<line x1="928.95" y1="1236" x2="928.95" y2="1243.7" stroke="#262626" stroke-width="2.6"/>
<line x1="943.10" y1="1236" x2="943.10" y2="1243.7" stroke="#262626" stroke-width="2.6"/>
<line x1="957.25" y1="1236" x2="957.25" y2="1243.7" stroke="#262626" stroke-width="2.6"/>
<line x1="971.40" y1="1236" x2="971.40" y2="1243.7" stroke="#262626" stroke-width="2.6"/>
<line x1="985.55" y1="1236" x2="985.55" y2="1251" stroke="#262626" stroke-width="3"/>
<line x1="999.70" y1="1236" x2="999.70" y2="1243.7" stroke="#262626" stroke-width="2.6"/>
<line x1="1013.85" y1="1236" x2="1013.85" y2="1243.7" stroke="#262626" stroke-width="2.6"/>
<line x1="1028.00" y1="1236" x2="1028.00" y2="1243.7" stroke="#262626" stroke-width="2.6"/>
<line x1="1042.15" y1="1236" x2="1042.15" y2="1243.7" stroke="#262626" stroke-width="2.6"/>
<line x1="1056.30" y1="1236" x2="1056.30" y2="1258.3" stroke="#262626" stroke-width="3.4"/>
<line x1="1070.45" y1="1236" x2="1070.45" y2="1243.7" stroke="#262626" stroke-width="2.6"/>
<line x1="1084.60" y1="1236" x2="1084.60" y2="1243.7" stroke="#262626" stroke-width="2.6"/>
<line x1="1098.75" y1="1236" x2="1098.75" y2="1243.7" stroke="#262626" stroke-width="2.6"/>
<line x1="1112.90" y1="1236" x2="1112.90" y2="1243.7" stroke="#262626" stroke-width="2.6"/>
<line x1="1127.05" y1="1236" x2="1127.05" y2="1251" stroke="#262626" stroke-width="3"/>
<line x1="1141.20" y1="1236" x2="1141.20" y2="1243.7" stroke="#262626" stroke-width="2.6"/>
<line x1="1155.35" y1="1236" x2="1155.35" y2="1243.7" stroke="#262626" stroke-width="2.6"/>
<line x1="1169.50" y1="1236" x2="1169.50" y2="1243.7" stroke="#262626" stroke-width="2.6"/>
<line x1="1183.65" y1="1236" x2="1183.65" y2="1243.7" stroke="#262626" stroke-width="2.6"/>
<line x1="1197.80" y1="1236" x2="1197.80" y2="1258.3" stroke="#262626" stroke-width="3.4"/>
<line x1="1211.95" y1="1236" x2="1211.95" y2="1243.7" stroke="#262626" stroke-width="2.6"/>
<line x1="1226.10" y1="1236" x2="1226.10" y2="1243.7" stroke="#262626" stroke-width="2.6"/>
<line x1="1240.25" y1="1236" x2="1240.25" y2="1243.7" stroke="#262626" stroke-width="2.6"/>
<line x1="1254.40" y1="1236" x2="1254.40" y2="1243.7" stroke="#262626" stroke-width="2.6"/>
<line x1="1268.55" y1="1236" x2="1268.55" y2="1251" stroke="#262626" stroke-width="3"/>
<line x1="1282.70" y1="1236" x2="1282.70" y2="1243.7" stroke="#262626" stroke-width="2.6"/>
<line x1="1296.85" y1="1236" x2="1296.85" y2="1243.7" stroke="#262626" stroke-width="2.6"/>
<line x1="1311.00" y1="1236" x2="1311.00" y2="1243.7" stroke="#262626" stroke-width="2.6"/>
<line x1="1325.15" y1="1236" x2="1325.15" y2="1243.7" stroke="#262626" stroke-width="2.6"/>
<line x1="1339.30" y1="1236" x2="1339.30" y2="1258.3" stroke="#262626" stroke-width="3.4"/>
<line x1="1353.45" y1="1236" x2="1353.45" y2="1243.7" stroke="#262626" stroke-width="2.6"/>
<line x1="1367.60" y1="1236" x2="1367.60" y2="1243.7" stroke="#262626" stroke-width="2.6"/>
<line x1="1381.75" y1="1236" x2="1381.75" y2="1243.7" stroke="#262626" stroke-width="2.6"/>
<text transform="translate(143.59,1216.80) scale(1.4584,1)" style='font-family:"Liberation Sans", sans-serif;font-weight:bold;font-size:22.64px;font-kerning:none' fill="#1c1c24" >0</text>
<text transform="translate(124.90,1128.60) scale(1.4721,1)" style='font-family:"Liberation Sans", sans-serif;font-weight:bold;font-size:22.64px;font-kerning:none' fill="#1c1c24" >10</text>
<text transform="translate(125.88,1040.40) scale(1.4319,1)" style='font-family:"Liberation Sans", sans-serif;font-weight:bold;font-size:22.64px;font-kerning:none' fill="#1c1c24" >20</text>
<text transform="translate(126.26,952.20) scale(1.4159,1)" style='font-family:"Liberation Sans", sans-serif;font-weight:bold;font-size:22.64px;font-kerning:none' fill="#1c1c24" >30</text>
<text transform="translate(126.52,864.00) scale(1.4054,1)" style='font-family:"Liberation Sans", sans-serif;font-weight:bold;font-size:22.64px;font-kerning:none' fill="#1c1c24" >40</text>
<text transform="translate(126.01,775.80) scale(1.4265,1)" style='font-family:"Liberation Sans", sans-serif;font-weight:bold;font-size:22.64px;font-kerning:none' fill="#1c1c24" >50</text>
<text transform="translate(207.22,1287.60) scale(1.5068,1)" style='font-family:"Liberation Sans", sans-serif;font-weight:bold;font-size:21.49px;font-kerning:none' fill="#1c1c24" >0</text>
<text transform="translate(339.99,1287.60) scale(1.4885,1)" style='font-family:"Liberation Sans", sans-serif;font-weight:bold;font-size:21.49px;font-kerning:none' fill="#1c1c24" >2</text>
<text transform="translate(482.16,1287.60) scale(1.3379,1)" style='font-family:"Liberation Sans", sans-serif;font-weight:bold;font-size:21.49px;font-kerning:none' fill="#1c1c24" >4</text>
<text transform="translate(622.93,1287.60) scale(1.4824,1)" style='font-family:"Liberation Sans", sans-serif;font-weight:bold;font-size:21.49px;font-kerning:none' fill="#1c1c24" >6</text>
<text transform="translate(764.61,1287.60) scale(1.4517,1)" style='font-family:"Liberation Sans", sans-serif;font-weight:bold;font-size:21.49px;font-kerning:none' fill="#1c1c24" >8</text>
<text transform="translate(895.73,1287.60) scale(1.5645,1)" style='font-family:"Liberation Sans", sans-serif;font-weight:bold;font-size:21.49px;font-kerning:none' fill="#1c1c24" >10</text>
<text transform="translate(1037.23,1287.60) scale(1.5630,1)" style='font-family:"Liberation Sans", sans-serif;font-weight:bold;font-size:21.49px;font-kerning:none' fill="#1c1c24" >12</text>
<text transform="translate(1178.80,1287.60) scale(1.5111,1)" style='font-family:"Liberation Sans", sans-serif;font-weight:bold;font-size:21.49px;font-kerning:none' fill="#1c1c24" >14</text>
<text transform="translate(1320.24,1287.60) scale(1.5570,1)" style='font-family:"Liberation Sans", sans-serif;font-weight:bold;font-size:21.49px;font-kerning:none' fill="#1c1c24" >16</text>
<text transform="translate(99.50,1130.83) rotate(-90) scale(0.8664,1)" style='font-family:"Liberation Serif", serif;font-weight:bold;font-size:39.69px;font-kerning:none' fill="#000" >Signal Intensity (mv)</text>
<text transform="translate(664.62,1334.90) scale(0.9597,1)" style='font-family:"Liberation Serif", serif;font-weight:bold;font-size:35.57px;font-kerning:none' fill="#000" >Retention Time (min)</text>
<polyline points="313.4,1208.5 437.2,1207.6" fill="none" stroke="#d83c3c" stroke-width="2.4"/>
<polyline points="454.9,1205.8 518.6,1205.4" fill="none" stroke="#d83c3c" stroke-width="2.4"/>
<polyline points="522.1,1205.8 603.5,1204.5" fill="none" stroke="#d83c3c" stroke-width="2.4"/>
<polyline points="709.6,1204.9 870.9,1204.9 929.0,1204.9" fill="none" stroke="#d83c3c" stroke-width="2.4"/>
<polyline points="960.8,1205.8 992.6,1205.8 1045.7,1206.3" fill="none" stroke="#d83c3c" stroke-width="2.4"/>
<polyline points="1162.4,1209.8 1236.7,1210.2" fill="none" stroke="#d83c3c" stroke-width="2.4"/>
<polyline points="1247.3,1208.5 1328.7,1202.7" fill="none" stroke="#d83c3c" stroke-width="2.4"/>
<polyline points="1364.1,1204.0 1392.4,1201.4" fill="none" stroke="#d83c3c" stroke-width="2.4"/>
<polyline points="207.30,1208.90 208.01,1208.90 208.72,1208.90 209.42,1208.90 210.13,1208.90 210.84,1208.90 211.55,1208.90 212.25,1208.89 212.96,1208.89 213.67,1208.89 214.38,1208.89 215.08,1208.89 215.79,1208.88 216.50,1208.88 217.21,1208.88 217.91,1208.88 218.62,1208.87 219.33,1208.87 220.04,1208.86 220.74,1208.86 221.45,1208.86 222.16,1208.85 222.87,1208.85 223.57,1208.84 224.28,1208.84 224.99,1208.83 225.70,1208.83 226.40,1208.82 227.11,1208.82 227.82,1208.81 228.53,1208.81 229.23,1208.80 229.94,1208.80 230.65,1208.79 231.36,1208.78 232.06,1208.78 232.77,1208.77 233.48,1208.77 234.19,1208.76 234.89,1208.75 235.60,1208.75 236.31,1208.74 237.02,1208.73 237.72,1208.72 238.43,1208.72 239.14,1208.71 239.85,1208.70 240.55,1208.69 241.26,1208.69 241.97,1208.68 242.68,1208.67 243.38,1208.66 244.09,1208.66 244.80,1208.65 245.51,1208.64 246.21,1208.63 246.92,1208.62 247.63,1208.61 248.34,1208.61 249.04,1208.60 249.75,1208.59 250.46,1208.58 251.17,1208.57 251.87,1208.56 252.58,1208.56 253.29,1208.55 254.00,1208.54 254.70,1208.53 255.41,1208.52 256.12,1208.51 256.83,1208.50 257.53,1208.49 258.24,1208.49 258.95,1208.48 259.66,1208.47 260.36,1208.46 261.07,1208.45 261.78,1208.44 262.49,1208.43 263.19,1208.42 263.90,1208.41 264.61,1208.41 265.32,1208.40 266.02,1208.39 266.73,1208.38 267.44,1208.37 268.15,1208.36 268.85,1208.35 269.56,1208.35 270.27,1208.34 270.98,1208.33 271.68,1208.32 272.39,1208.31 273.10,1208.30 273.81,1208.30 274.51,1208.29 275.22,1208.28 275.93,1208.27 276.64,1208.26 277.34,1208.25 278.05,1208.25 278.76,1208.24 279.47,1208.23 280.17,1208.22 280.88,1208.22 281.59,1208.21 282.30,1208.20 283.00,1208.19 283.71,1208.19 284.42,1208.18 285.13,1208.17 285.83,1208.17 286.54,1208.16 287.25,1208.15 287.96,1208.15 288.66,1208.14 289.37,1208.13 290.08,1208.13 290.79,1208.12 291.49,1208.12 292.20,1208.11 292.91,1208.10 293.62,1208.10 294.32,1208.09 295.03,1208.09 295.74,1208.08 296.45,1208.08 297.15,1208.07 297.86,1208.07 298.57,1208.07 299.28,1208.06 299.98,1208.06 300.69,1208.05 301.40,1208.05 302.11,1208.05 302.81,1208.04 303.52,1208.04 304.23,1208.04 304.94,1208.03 305.64,1208.03 306.35,1208.03 307.06,1208.03 307.77,1208.03 308.47,1208.02 309.18,1208.02 309.89,1208.02 310.60,1208.02 311.30,1208.02 312.01,1208.02 312.72,1208.02 313.43,1208.02 314.13,1208.02 314.84,1208.02 315.55,1208.02 316.26,1208.01 316.96,1208.01 317.67,1208.01 318.38,1208.01 319.09,1208.00 319.79,1208.00 320.50,1208.00 321.21,1207.99 321.92,1207.99 322.62,1207.98 323.33,1207.98 324.04,1207.97 324.75,1207.97 325.45,1207.96 326.16,1207.95 326.87,1207.95 327.58,1207.94 328.28,1207.93 328.99,1207.93 329.70,1207.92 330.41,1207.91 331.11,1207.90 331.82,1207.89 332.53,1207.88 333.24,1207.88 333.94,1207.87 334.65,1207.86 335.36,1207.85 336.07,1207.84 336.77,1207.83 337.48,1207.82 338.19,1207.81 338.90,1207.80 339.60,1207.79 340.31,1207.77 341.02,1207.76 341.73,1207.75 342.43,1207.74 343.14,1207.73 343.85,1207.72 344.56,1207.71 345.26,1207.70 345.97,1207.68 346.68,1207.67 347.39,1207.66 348.09,1207.65 348.80,1207.64 349.51,1207.63 350.22,1207.61 350.92,1207.60 351.63,1207.59 352.34,1207.58 353.05,1207.56 353.75,1207.55 354.46,1207.54 355.17,1207.53 355.87,1207.52 356.58,1207.51 357.29,1207.49 358.00,1207.48 358.70,1207.47 359.41,1207.46 360.12,1207.45 360.83,1207.43 361.53,1207.42 362.24,1207.41 362.95,1207.40 363.66,1207.39 364.36,1207.38 365.07,1207.37 365.78,1207.36 366.49,1207.35 367.19,1207.34 367.90,1207.33 368.61,1207.32 369.32,1207.31 370.02,1207.30 370.73,1207.29 371.44,1207.28 372.15,1207.27 372.85,1207.26 373.56,1207.25 374.27,1207.24 374.98,1207.24 375.68,1207.23 376.39,1207.22 377.10,1207.21 377.81,1207.21 378.51,1207.20 379.22,1207.19 379.93,1207.19 380.64,1207.18 381.34,1207.18 382.05,1207.17 382.76,1207.17 383.47,1207.16 384.17,1207.16 384.88,1207.15 385.59,1207.15 386.30,1207.15 387.00,1207.14 387.71,1207.14 388.42,1207.14 389.13,1207.14 389.83,1207.14 390.54,1207.14 391.25,1207.14 391.96,1207.13 392.66,1207.12 393.37,1207.10 394.08,1207.07 394.79,1207.04 395.49,1207.00 396.20,1206.95 396.91,1206.90 397.62,1206.85 398.32,1206.79 399.03,1206.73 399.74,1206.67 400.45,1206.61 401.15,1206.54 401.86,1206.47 402.57,1206.41 403.28,1206.34 403.98,1206.28 404.69,1206.22 405.40,1206.16 406.11,1206.10 406.81,1206.05 407.52,1206.00 408.23,1205.95 408.94,1205.91 409.64,1205.88 410.35,1205.85 411.06,1205.83 411.77,1205.82 412.47,1205.81 413.18,1205.82 413.89,1205.85 414.60,1205.89 415.30,1205.95 416.01,1206.02 416.72,1206.10 417.43,1206.19 418.13,1206.28 418.84,1206.38 419.55,1206.47 420.26,1206.57 420.96,1206.67 421.67,1206.76 422.38,1206.85 423.09,1206.93 423.79,1207.00 424.50,1207.06 425.21,1207.10 425.92,1207.13 426.62,1207.14 427.33,1207.14 428.04,1207.16 428.75,1207.19 429.45,1207.23 430.16,1207.27 430.87,1207.33 431.58,1207.38 432.28,1207.45 432.99,1207.51 433.70,1207.58 434.41,1207.64 435.11,1207.71 435.82,1207.77 436.53,1207.83 437.24,1207.88 437.94,1207.93 438.65,1207.96 439.36,1207.99 440.07,1208.01 440.77,1208.02 441.48,1208.01 442.19,1207.97 442.90,1207.91 443.60,1207.84 444.31,1207.74 445.02,1207.63 445.73,1207.51 446.43,1207.38 447.14,1207.24 447.85,1207.09 448.56,1206.93 449.26,1206.77 449.97,1206.62 450.68,1206.46 451.39,1206.30 452.09,1206.15 452.80,1206.01 453.51,1205.88 454.22,1205.76 454.92,1205.65 455.63,1205.55 456.34,1205.48 457.05,1205.42 457.75,1205.38 458.46,1205.37 459.17,1205.37 459.88,1205.35 460.58,1205.32 461.29,1205.28 462.00,1205.23 462.71,1205.18 463.41,1205.12 464.12,1205.06 464.83,1205.00 465.54,1204.93 466.24,1204.87 466.95,1204.80 467.66,1204.74 468.37,1204.68 469.07,1204.63 469.78,1204.58 470.49,1204.54 471.20,1204.51 471.90,1204.50 472.61,1204.49 473.32,1204.49 474.03,1204.49 474.73,1204.49 475.44,1204.49 476.15,1204.50 476.86,1204.50 477.56,1204.50 478.27,1204.51 478.98,1204.51 479.69,1204.52 480.39,1204.52 481.10,1204.53 481.81,1204.54 482.52,1204.54 483.22,1204.55 483.93,1204.56 484.64,1204.56 485.35,1204.57 486.05,1204.58 486.76,1204.59 487.47,1204.60 488.18,1204.61 488.88,1204.62 489.59,1204.63 490.30,1204.64 491.01,1204.65 491.71,1204.66 492.42,1204.66 493.13,1204.68 493.84,1204.69 494.54,1204.70 495.25,1204.71 495.96,1204.72 496.67,1204.73 497.37,1204.74 498.08,1204.75 498.79,1204.76 499.50,1204.77 500.20,1204.78 500.91,1204.79 501.62,1204.80 502.33,1204.80 503.03,1204.81 503.74,1204.82 504.45,1204.83 505.16,1204.84 505.86,1204.85 506.57,1204.86 507.28,1204.86 507.99,1204.87 508.69,1204.88 509.40,1204.89 510.11,1204.89 510.82,1204.90 511.52,1204.90 512.23,1204.91 512.94,1204.91 513.65,1204.92 514.35,1204.92 515.06,1204.92 515.77,1204.93 516.48,1204.93 517.18,1204.93 517.89,1204.93 518.60,1204.93 519.31,1204.93 520.01,1204.93 520.72,1204.93 521.43,1204.93 522.14,1204.93 522.84,1204.93 523.55,1204.93 524.26,1204.93 524.97,1204.92 525.67,1204.92 526.38,1204.92 527.09,1204.91 527.80,1204.91 528.50,1204.90 529.21,1204.89 529.92,1204.88 530.63,1204.86 531.33,1204.84 532.04,1204.81 532.75,1204.78 533.46,1204.74 534.16,1204.69 534.87,1204.62 535.58,1204.54 536.29,1204.44 536.99,1204.32 537.70,1204.18 538.41,1204.00 539.12,1203.79 539.82,1203.53 540.53,1203.22 541.24,1202.86 541.95,1202.43 542.65,1201.92 543.36,1201.32 544.07,1200.63 544.78,1199.83 545.48,1198.89 546.19,1197.82 546.90,1196.59 547.61,1195.19 548.31,1193.58 549.02,1191.76 549.73,1189.69 550.44,1187.34 551.14,1184.67 551.85,1181.63 552.56,1178.17 553.27,1174.20 553.97,1169.64 554.68,1164.39 555.39,1158.30 556.10,1151.23 556.80,1143.01 557.51,1133.44 558.22,1122.32 558.93,1109.44 559.63,1094.61 560.34,1077.67 561.05,1058.48 561.76,1037.00 562.46,1013.27 563.17,987.42 563.88,959.75 564.59,930.64 565.29,900.66 566.00,870.49 566.71,840.89 567.42,812.75 568.12,786.95 568.83,764.38 569.54,745.85 570.25,732.08 570.95,723.58 571.66,720.71 572.37,723.58 573.08,732.08 573.78,745.85 574.49,764.38 575.20,786.95 575.91,812.75 576.61,840.89 577.32,870.48 578.03,900.66 578.74,930.64 579.44,959.75 580.15,987.42 580.86,1013.27 581.57,1037.00 582.27,1058.48 582.98,1077.67 583.69,1094.61 584.40,1109.44 585.10,1122.32 585.81,1133.44 586.52,1143.01 587.23,1151.23 587.93,1158.30 588.64,1164.39 589.35,1169.64 590.06,1174.20 590.76,1178.17 591.47,1181.63 592.18,1184.67 592.89,1187.34 593.59,1189.69 594.30,1191.76 595.01,1193.58 595.72,1195.19 596.42,1196.59 597.13,1197.82 597.84,1198.89 598.55,1199.82 599.25,1200.63 599.96,1201.32 600.67,1201.92 601.38,1202.43 602.08,1202.86 602.79,1203.22 603.50,1203.53 604.21,1203.79 604.91,1204.01 605.62,1204.20 606.33,1204.37 607.04,1204.52 607.74,1204.65 608.45,1204.76 609.16,1204.87 609.87,1204.96 610.57,1205.05 611.28,1205.14 611.99,1205.22 612.70,1205.30 613.40,1205.37 614.11,1205.45 614.82,1205.52 615.53,1205.59 616.23,1205.66 616.94,1205.73 617.65,1205.80 618.36,1205.87 619.06,1205.94 619.77,1206.00 620.48,1206.07 621.19,1206.13 621.89,1206.19 622.60,1206.25 623.31,1206.31 624.02,1206.36 624.72,1206.42 625.43,1206.46 626.14,1206.51 626.85,1206.55 627.55,1206.58 628.26,1206.61 628.97,1206.64 629.68,1206.66 630.38,1206.68 631.09,1206.69 631.80,1206.69 632.51,1206.69 633.21,1206.70 633.92,1206.71 634.63,1206.73 635.34,1206.75 636.04,1206.77 636.75,1206.80 637.46,1206.83 638.17,1206.87 638.87,1206.91 639.58,1206.95 640.29,1207.00 641.00,1207.05 641.70,1207.10 642.41,1207.15 643.12,1207.21 643.83,1207.27 644.53,1207.33 645.24,1207.39 645.95,1207.45 646.66,1207.51 647.36,1207.57 648.07,1207.64 648.78,1207.70 649.49,1207.77 650.19,1207.83 650.90,1207.90 651.61,1207.96 652.32,1208.02 653.02,1208.08 653.73,1208.14 654.44,1208.20 655.15,1208.26 655.85,1208.32 656.56,1208.37 657.27,1208.42 657.98,1208.47 658.68,1208.52 659.39,1208.56 660.10,1208.60 660.81,1208.64 661.51,1208.67 662.22,1208.70 662.93,1208.73 663.64,1208.75 664.34,1208.77 665.05,1208.78 665.76,1208.79 666.47,1208.79 667.17,1208.79 667.88,1208.78 668.59,1208.77 669.30,1208.75 670.00,1208.73 670.71,1208.70 671.42,1208.68 672.13,1208.64 672.83,1208.61 673.54,1208.57 674.25,1208.52 674.96,1208.47 675.66,1208.42 676.37,1208.37 677.08,1208.32 677.79,1208.26 678.49,1208.19 679.20,1208.13 679.91,1208.06 680.62,1208.00 681.32,1207.92 682.03,1207.85 682.74,1207.78 683.45,1207.70 684.15,1207.62 684.86,1207.54 685.57,1207.46 686.28,1207.38 686.98,1207.30 687.69,1207.21 688.40,1207.13 689.11,1207.04 689.81,1206.96 690.52,1206.87 691.23,1206.78 691.94,1206.70 692.64,1206.61 693.35,1206.52 694.06,1206.44 694.77,1206.35 695.47,1206.26 696.18,1206.18 696.89,1206.09 697.60,1206.01 698.30,1205.92 699.01,1205.84 699.72,1205.76 700.43,1205.68 701.13,1205.60 701.84,1205.52 702.55,1205.45 703.26,1205.37 703.96,1205.30 704.67,1205.23 705.38,1205.16 706.09,1205.10 706.79,1205.04 707.50,1204.97 708.21,1204.92 708.92,1204.86 709.62,1204.81 710.33,1204.76 711.04,1204.70 711.75,1204.65 712.45,1204.59 713.16,1204.53 713.87,1204.47 714.58,1204.41 715.28,1204.34 715.99,1204.27 716.70,1204.21 717.41,1204.14 718.11,1204.06 718.82,1203.99 719.53,1203.91 720.24,1203.83 720.94,1203.75 721.65,1203.67 722.36,1203.59 723.07,1203.50 723.77,1203.41 724.48,1203.32 725.19,1203.23 725.90,1203.13 726.60,1203.03 727.31,1202.93 728.02,1202.83 728.73,1202.73 729.43,1202.62 730.14,1202.51 730.85,1202.40 731.56,1202.29 732.26,1202.17 732.97,1202.05 733.68,1201.93 734.39,1201.81 735.09,1201.69 735.80,1201.56 736.51,1201.43 737.22,1201.30 737.92,1201.16 738.63,1201.03 739.34,1200.89 740.05,1200.75 740.75,1200.60 741.46,1200.46 742.17,1200.31 742.88,1200.16 743.58,1200.00 744.29,1199.85 745.00,1199.69 745.71,1199.53 746.41,1199.37 747.12,1199.21 747.83,1199.04 748.54,1198.88 749.24,1198.71 749.95,1198.54 750.66,1198.36 751.37,1198.19 752.07,1198.01 752.78,1197.83 753.49,1197.65 754.20,1197.47 754.90,1197.28 755.61,1197.10 756.32,1196.91 757.03,1196.72 757.73,1196.53 758.44,1196.34 759.15,1196.14 759.86,1195.95 760.56,1195.75 761.27,1195.56 761.98,1195.36 762.69,1195.16 763.39,1194.96 764.10,1194.76 764.81,1194.56 765.52,1194.36 766.22,1194.16 766.93,1193.95 767.64,1193.75 768.35,1193.55 769.05,1193.34 769.76,1193.14 770.47,1192.93 771.18,1192.73 771.88,1192.53 772.59,1192.32 773.30,1192.12 774.01,1191.92 774.71,1191.71 775.42,1191.51 776.13,1191.31 776.84,1191.11 777.54,1190.91 778.25,1190.71 778.96,1190.52 779.67,1190.32 780.37,1190.12 781.08,1189.93 781.79,1189.74 782.50,1189.55 783.20,1189.36 783.91,1189.18 784.62,1188.99 785.33,1188.81 786.03,1188.63 786.74,1188.45 787.45,1188.28 788.16,1188.11 788.86,1187.94 789.57,1187.77 790.28,1187.60 790.99,1187.44 791.69,1187.28 792.40,1187.13 793.11,1186.98 793.82,1186.83 794.52,1186.68 795.23,1186.54 795.94,1186.40 796.65,1186.27 797.35,1186.14 798.06,1186.01 798.77,1185.88 799.48,1185.77 800.18,1185.65 800.89,1185.54 801.60,1185.43 802.31,1185.33 803.01,1185.23 803.72,1185.14 804.43,1185.05 805.14,1184.96 805.84,1184.88 806.55,1184.81 807.26,1184.73 807.97,1184.67 808.67,1184.61 809.38,1184.55 810.09,1184.50 810.80,1184.45 811.50,1184.41 812.21,1184.37 812.92,1184.34 813.63,1184.31 814.33,1184.29 815.04,1184.27 815.75,1184.25 816.46,1184.25 817.16,1184.24 817.87,1184.24 818.58,1184.25 819.29,1184.26 819.99,1184.28 820.70,1184.30 821.41,1184.32 822.12,1184.35 822.82,1184.38 823.53,1184.42 824.24,1184.46 824.95,1184.51 825.65,1184.56 826.36,1184.62 827.07,1184.68 827.78,1184.74 828.48,1184.81 829.19,1184.89 829.90,1184.96 830.61,1185.05 831.31,1185.13 832.02,1185.22 832.73,1185.31 833.44,1185.41 834.14,1185.51 834.85,1185.62 835.56,1185.73 836.27,1185.84 836.97,1185.95 837.68,1186.07 838.39,1186.20 839.10,1186.32 839.80,1186.45 840.51,1186.58 841.22,1186.72 841.93,1186.86 842.63,1187.00 843.34,1187.14 844.05,1187.29 844.76,1187.44 845.46,1187.59 846.17,1187.74 846.88,1187.90 847.59,1188.06 848.29,1188.22 849.00,1188.38 849.71,1188.55 850.42,1188.71 851.12,1188.88 851.83,1189.05 852.54,1189.22 853.25,1189.40 853.95,1189.57 854.66,1189.75 855.37,1189.93 856.08,1190.10 856.78,1190.28 857.49,1190.46 858.20,1190.64 858.91,1190.82 859.61,1191.00 860.32,1191.18 861.03,1191.35 861.74,1191.53 862.44,1191.70 863.15,1191.86 863.86,1192.02 864.57,1192.18 865.27,1192.33 865.98,1192.46 866.69,1192.58 867.40,1192.68 868.10,1192.77 868.81,1192.82 869.52,1192.85 870.23,1192.84 870.93,1192.79 871.64,1192.69 872.35,1192.53 873.06,1192.30 873.76,1192.00 874.47,1191.61 875.18,1191.13 875.89,1190.55 876.59,1189.84 877.30,1189.02 878.01,1188.06 878.72,1186.97 879.42,1185.73 880.13,1184.35 880.84,1182.82 881.55,1181.15 882.25,1179.34 882.96,1177.40 883.67,1175.35 884.38,1173.19 885.08,1170.96 885.79,1168.68 886.50,1166.36 887.21,1164.06 887.91,1161.79 888.62,1159.59 889.33,1157.50 890.04,1155.55 890.74,1153.79 891.45,1152.23 892.16,1150.91 892.87,1149.86 893.57,1149.10 894.28,1148.65 894.99,1148.51 895.70,1148.69 896.40,1149.20 897.11,1150.01 897.82,1151.13 898.53,1152.53 899.23,1154.18 899.94,1156.07 900.65,1158.15 901.36,1160.40 902.06,1162.77 902.77,1165.24 903.48,1167.77 904.19,1170.32 904.89,1172.87 905.60,1175.37 906.31,1177.82 907.02,1180.17 907.72,1182.42 908.43,1184.55 909.14,1186.55 909.85,1188.40 910.55,1190.11 911.26,1191.68 911.97,1193.10 912.68,1194.38 913.38,1195.52 914.09,1196.53 914.80,1197.43 915.51,1198.21 916.21,1198.90 916.92,1199.49 917.63,1200.00 918.34,1200.44 919.04,1200.82 919.75,1201.14 920.46,1201.41 921.17,1201.64 921.87,1201.84 922.58,1202.01 923.29,1202.15 924.00,1202.28 924.70,1202.38 925.41,1202.48 926.12,1202.56 926.83,1202.64 927.53,1202.70 928.24,1202.76 928.95,1202.82 929.66,1202.87 930.36,1202.93 931.07,1203.00 931.78,1203.06 932.49,1203.14 933.19,1203.22 933.90,1203.30 934.61,1203.38 935.32,1203.47 936.02,1203.56 936.73,1203.66 937.44,1203.76 938.15,1203.86 938.85,1203.96 939.56,1204.06 940.27,1204.17 940.98,1204.27 941.68,1204.38 942.39,1204.48 943.10,1204.59 943.81,1204.69 944.51,1204.80 945.22,1204.90 945.93,1205.00 946.64,1205.10 947.34,1205.19 948.05,1205.29 948.76,1205.37 949.47,1205.46 950.17,1205.54 950.88,1205.61 951.59,1205.68 952.30,1205.75 953.00,1205.81 953.71,1205.86 954.42,1205.90 955.13,1205.94 955.83,1205.97 956.54,1206.00 957.25,1206.01 957.96,1206.02 958.66,1206.02 959.37,1206.03 960.08,1206.02 960.79,1206.01 961.49,1206.00 962.20,1205.98 962.91,1205.94 963.62,1205.89 964.32,1205.83 965.03,1205.74 965.74,1205.63 966.45,1205.49 967.15,1205.31 967.86,1205.09 968.57,1204.84 969.28,1204.54 969.98,1204.20 970.69,1203.83 971.40,1203.44 972.11,1203.04 972.81,1202.64 973.52,1202.26 974.23,1201.93 974.94,1201.64 975.64,1201.43 976.35,1201.30 977.06,1201.26 977.77,1201.31 978.47,1201.44 979.18,1201.65 979.89,1201.92 980.60,1202.24 981.30,1202.58 982.01,1202.94 982.72,1203.29 983.43,1203.62 984.13,1203.92 984.84,1204.18 985.55,1204.39 986.26,1204.56 986.96,1204.69 987.67,1204.77 988.38,1204.80 989.09,1204.79 989.79,1204.74 990.50,1204.65 991.21,1204.52 991.92,1204.34 992.62,1204.11 993.33,1203.83 994.04,1203.49 994.75,1203.08 995.45,1202.59 996.16,1202.03 996.87,1201.37 997.58,1200.61 998.28,1199.74 998.99,1198.76 999.70,1197.66 1000.41,1196.44 1001.11,1195.10 1001.82,1193.64 1002.53,1192.06 1003.24,1190.37 1003.94,1188.59 1004.65,1186.72 1005.36,1184.79 1006.07,1182.82 1006.77,1180.83 1007.48,1178.85 1008.19,1176.90 1008.90,1175.03 1009.60,1173.25 1010.31,1171.61 1011.02,1170.13 1011.73,1168.84 1012.43,1167.77 1013.14,1166.93 1013.85,1166.35 1014.56,1166.04 1015.26,1166.00 1015.97,1166.24 1016.68,1166.74 1017.39,1167.51 1018.09,1168.52 1018.80,1169.76 1019.51,1171.20 1020.22,1172.81 1020.92,1174.57 1021.63,1176.43 1022.34,1178.38 1023.05,1180.39 1023.75,1182.41 1024.46,1184.42 1025.17,1186.40 1025.88,1188.32 1026.58,1190.17 1027.29,1191.92 1028.00,1193.57 1028.71,1195.10 1029.41,1196.51 1030.12,1197.81 1030.83,1198.97 1031.54,1200.02 1032.24,1200.95 1032.95,1201.78 1033.66,1202.50 1034.37,1203.12 1035.07,1203.66 1035.78,1204.11 1036.49,1204.50 1037.20,1204.83 1037.90,1205.10 1038.61,1205.33 1039.32,1205.51 1040.03,1205.67 1040.73,1205.79 1041.44,1205.89 1042.15,1205.97 1042.86,1206.04 1043.56,1206.09 1044.27,1206.13 1044.98,1206.16 1045.69,1206.18 1046.39,1206.20 1047.10,1206.22 1047.81,1206.23 1048.52,1206.24 1049.22,1206.24 1049.93,1206.25 1050.64,1206.28 1051.35,1206.32 1052.05,1206.38 1052.76,1206.45 1053.47,1206.53 1054.18,1206.62 1054.88,1206.72 1055.59,1206.83 1056.30,1206.94 1057.01,1207.06 1057.71,1207.19 1058.42,1207.31 1059.13,1207.44 1059.84,1207.58 1060.54,1207.71 1061.25,1207.84 1061.96,1207.97 1062.67,1208.09 1063.37,1208.21 1064.08,1208.33 1064.79,1208.44 1065.50,1208.54 1066.20,1208.62 1066.91,1208.70 1067.62,1208.77 1068.33,1208.83 1069.03,1208.87 1069.74,1208.89 1070.45,1208.90 1071.16,1208.90 1071.86,1208.91 1072.57,1208.92 1073.28,1208.94 1073.99,1208.96 1074.69,1208.99 1075.40,1209.02 1076.11,1209.05 1076.82,1209.09 1077.52,1209.13 1078.23,1209.17 1078.94,1209.22 1079.65,1209.27 1080.35,1209.33 1081.06,1209.38 1081.77,1209.44 1082.48,1209.50 1083.18,1209.57 1083.89,1209.63 1084.60,1209.70 1085.31,1209.77 1086.01,1209.84 1086.72,1209.91 1087.43,1209.99 1088.14,1210.06 1088.84,1210.14 1089.55,1210.21 1090.26,1210.29 1090.97,1210.37 1091.67,1210.44 1092.38,1210.52 1093.09,1210.60 1093.80,1210.67 1094.50,1210.75 1095.21,1210.83 1095.92,1210.90 1096.63,1210.97 1097.33,1211.05 1098.04,1211.12 1098.75,1211.19 1099.46,1211.25 1100.16,1211.32 1100.87,1211.38 1101.58,1211.45 1102.29,1211.50 1102.99,1211.56 1103.70,1211.62 1104.41,1211.67 1105.12,1211.71 1105.82,1211.76 1106.53,1211.80 1107.24,1211.84 1107.95,1211.87 1108.65,1211.90 1109.36,1211.93 1110.07,1211.95 1110.78,1211.96 1111.48,1211.98 1112.19,1211.98 1112.90,1211.99 1113.61,1211.99 1114.31,1211.98 1115.02,1211.98 1115.73,1211.97 1116.44,1211.95 1117.14,1211.94 1117.85,1211.93 1118.56,1211.91 1119.27,1211.89 1119.97,1211.86 1120.68,1211.84 1121.39,1211.81 1122.10,1211.79 1122.80,1211.76 1123.51,1211.73 1124.22,1211.69 1124.93,1211.66 1125.63,1211.62 1126.34,1211.59 1127.05,1211.55 1127.76,1211.51 1128.46,1211.47 1129.17,1211.43 1129.88,1211.39 1130.59,1211.34 1131.29,1211.30 1132.00,1211.26 1132.71,1211.21 1133.42,1211.17 1134.12,1211.12 1134.83,1211.07 1135.54,1211.03 1136.25,1210.98 1136.95,1210.93 1137.66,1210.88 1138.37,1210.84 1139.08,1210.79 1139.78,1210.74 1140.49,1210.70 1141.20,1210.65 1141.91,1210.60 1142.61,1210.56 1143.32,1210.51 1144.03,1210.47 1144.74,1210.42 1145.44,1210.38 1146.15,1210.34 1146.86,1210.30 1147.57,1210.25 1148.27,1210.21 1148.98,1210.17 1149.69,1210.13 1150.40,1210.09 1151.10,1210.05 1151.81,1210.01 1152.52,1209.97 1153.23,1209.93 1153.93,1209.88 1154.64,1209.83 1155.35,1209.77 1156.06,1209.71 1156.76,1209.63 1157.47,1209.54 1158.18,1209.43 1158.89,1209.30 1159.59,1209.14 1160.30,1208.94 1161.01,1208.70 1161.72,1208.41 1162.42,1208.06 1163.13,1207.62 1163.84,1207.10 1164.55,1206.47 1165.25,1205.71 1165.96,1204.81 1166.67,1203.75 1167.38,1202.50 1168.08,1201.04 1168.79,1199.36 1169.50,1197.42 1170.21,1195.21 1170.91,1192.70 1171.62,1189.89 1172.33,1186.74 1173.04,1183.26 1173.74,1179.43 1174.45,1175.25 1175.16,1170.72 1175.87,1165.87 1176.57,1160.70 1177.28,1155.25 1177.99,1149.55 1178.70,1143.64 1179.40,1137.59 1180.11,1131.45 1180.82,1125.28 1181.53,1119.17 1182.23,1113.19 1182.94,1107.43 1183.65,1101.96 1184.36,1096.86 1185.06,1092.23 1185.77,1088.13 1186.48,1084.63 1187.19,1081.78 1187.89,1079.65 1188.60,1078.26 1189.31,1077.64 1190.02,1077.80 1190.72,1078.74 1191.43,1080.44 1192.14,1082.88 1192.85,1086.00 1193.55,1089.76 1194.26,1094.10 1194.97,1098.93 1195.68,1104.20 1196.38,1109.81 1197.09,1115.68 1197.80,1121.73 1198.51,1127.88 1199.21,1134.06 1199.92,1140.18 1200.63,1146.19 1201.34,1152.03 1202.04,1157.65 1202.75,1163.00 1203.46,1168.05 1204.17,1172.79 1204.87,1177.18 1205.58,1181.23 1206.29,1184.93 1207.00,1188.29 1207.70,1191.31 1208.41,1194.01 1209.12,1196.40 1209.83,1198.51 1210.53,1200.35 1211.24,1201.95 1211.95,1203.32 1212.66,1204.50 1213.36,1205.51 1214.07,1206.35 1214.78,1207.06 1215.49,1207.66 1216.19,1208.15 1216.90,1208.55 1217.61,1208.88 1218.32,1209.15 1219.02,1209.37 1219.73,1209.55 1220.44,1209.69 1221.15,1209.80 1221.85,1209.89 1222.56,1209.96 1223.27,1210.01 1223.98,1210.05 1224.68,1210.09 1225.39,1210.11 1226.10,1210.14 1226.81,1210.15 1227.51,1210.16 1228.22,1210.17 1228.93,1210.18 1229.64,1210.19 1230.34,1210.19 1231.05,1210.20 1231.76,1210.20 1232.47,1210.20 1233.17,1210.21 1233.88,1210.21 1234.59,1210.21 1235.30,1210.21 1236.00,1210.20 1236.71,1210.20 1237.42,1210.20 1238.13,1210.19 1238.83,1210.19 1239.54,1210.18 1240.25,1210.17 1240.96,1210.16 1241.66,1210.14 1242.37,1210.12 1243.08,1210.09 1243.79,1210.05 1244.49,1210.00 1245.20,1209.95 1245.91,1209.89 1246.62,1209.82 1247.32,1209.74 1248.03,1209.64 1248.74,1209.53 1249.45,1209.41 1250.15,1209.27 1250.86,1209.11 1251.57,1208.94 1252.28,1208.74 1252.98,1208.51 1253.69,1208.26 1254.40,1207.98 1255.11,1207.66 1255.81,1207.31 1256.52,1206.91 1257.23,1206.48 1257.94,1205.99 1258.64,1205.46 1259.35,1204.87 1260.06,1204.23 1260.77,1203.52 1261.47,1202.75 1262.18,1201.91 1262.89,1200.99 1263.60,1200.00 1264.30,1198.93 1265.01,1197.78 1265.72,1196.55 1266.43,1195.23 1267.13,1193.82 1267.84,1192.33 1268.55,1190.75 1269.26,1189.09 1269.96,1187.35 1270.67,1185.53 1271.38,1183.63 1272.09,1181.66 1272.79,1179.63 1273.50,1177.54 1274.21,1175.40 1274.92,1173.22 1275.62,1171.02 1276.33,1168.79 1277.04,1166.56 1277.75,1164.34 1278.45,1162.13 1279.16,1159.96 1279.87,1157.83 1280.58,1155.77 1281.28,1153.78 1281.99,1151.88 1282.70,1150.08 1283.41,1148.40 1284.11,1146.85 1284.82,1145.43 1285.53,1144.18 1286.24,1143.08 1286.94,1142.15 1287.65,1141.41 1288.36,1140.84 1289.07,1140.46 1289.77,1140.28 1290.48,1140.28 1291.19,1140.48 1291.90,1140.86 1292.60,1141.43 1293.31,1142.17 1294.02,1143.09 1294.73,1144.16 1295.43,1145.40 1296.14,1146.77 1296.85,1148.27 1297.56,1149.89 1298.26,1151.62 1298.97,1153.44 1299.68,1155.33 1300.39,1157.28 1301.09,1159.29 1301.80,1161.33 1302.51,1163.38 1303.22,1165.45 1303.92,1167.51 1304.63,1169.56 1305.34,1171.58 1306.05,1173.56 1306.75,1175.49 1307.46,1177.38 1308.17,1179.19 1308.88,1180.95 1309.58,1182.63 1310.29,1184.23 1311.00,1185.76 1311.71,1187.20 1312.41,1188.56 1313.12,1189.84 1313.83,1191.03 1314.54,1192.15 1315.24,1193.18 1315.95,1194.14 1316.66,1195.02 1317.37,1195.83 1318.07,1196.57 1318.78,1197.25 1319.49,1197.86 1320.20,1198.42 1320.90,1198.92 1321.61,1199.38 1322.32,1199.78 1323.03,1200.15 1323.73,1200.48 1324.44,1200.77 1325.15,1201.03 1325.86,1201.27 1326.56,1201.47 1327.27,1201.64 1327.98,1201.80 1328.69,1201.93 1329.39,1202.04 1330.10,1202.14 1330.81,1202.22 1331.52,1202.28 1332.22,1202.34 1332.93,1202.39 1333.64,1202.42 1334.35,1202.45 1335.05,1202.48 1335.76,1202.49 1336.47,1202.51 1337.18,1202.52 1337.88,1202.52 1338.59,1202.52 1339.30,1202.52 1340.01,1202.52 1340.71,1202.51 1341.42,1202.50 1342.13,1202.50 1342.84,1202.49 1343.54,1202.48 1344.25,1202.47 1344.96,1202.46 1345.67,1202.45 1346.37,1202.43 1347.08,1202.42 1347.79,1202.41 1348.50,1202.40 1349.20,1202.39 1349.91,1202.38 1350.62,1202.37 1351.33,1202.36 1352.03,1202.35 1352.74,1202.34 1353.45,1202.33 1354.16,1202.32 1354.86,1202.31 1355.57,1202.31 1356.28,1202.30 1356.99,1202.30 1357.69,1202.29 1358.40,1202.29 1359.11,1202.29 1359.82,1202.29 1360.52,1202.28 1361.23,1202.28 1361.94,1202.28 1362.65,1202.27 1363.35,1202.27 1364.06,1202.25 1364.77,1202.24 1365.48,1202.23 1366.18,1202.21 1366.89,1202.19 1367.60,1202.17 1368.31,1202.15 1369.01,1202.13 1369.72,1202.11 1370.43,1202.08 1371.14,1202.06 1371.84,1202.03 1372.55,1202.00 1373.26,1201.97 1373.97,1201.95 1374.67,1201.92 1375.38,1201.89 1376.09,1201.86 1376.80,1201.83 1377.50,1201.80 1378.21,1201.77 1378.92,1201.74 1379.63,1201.71 1380.33,1201.69 1381.04,1201.66 1381.75,1201.63 1382.46,1201.61 1383.16,1201.58 1383.87,1201.56 1384.58,1201.54 1385.29,1201.51 1385.99,1201.49 1386.70,1201.48 1387.41,1201.46 1388.12,1201.45 1388.82,1201.43 1389.53,1201.42 1390.24,1201.41 1390.95,1201.41 1391.65,1201.40" fill="none" stroke="#141414" stroke-width="3.2" stroke-linejoin="round"/>
<line x1="313.4" y1="1208.0" x2="313.4" y2="1218.0" stroke="#5ac8d2" stroke-width="2.6"/>
<line x1="437.2" y1="1198.9" x2="437.2" y2="1208.9" stroke="#5ac8d2" stroke-width="2.6"/>
<line x1="454.9" y1="1205.6" x2="454.9" y2="1215.6" stroke="#5ac8d2" stroke-width="2.6"/>
<line x1="518.6" y1="1195.9" x2="518.6" y2="1205.9" stroke="#5ac8d2" stroke-width="2.6"/>
<line x1="522.1" y1="1204.9" x2="522.1" y2="1214.9" stroke="#5ac8d2" stroke-width="2.6"/>
<line x1="603.5" y1="1194.5" x2="603.5" y2="1204.5" stroke="#5ac8d2" stroke-width="2.6"/>
<line x1="709.6" y1="1204.8" x2="709.6" y2="1214.8" stroke="#5ac8d2" stroke-width="2.6"/>
<line x1="870.9" y1="1183.8" x2="870.9" y2="1193.8" stroke="#5ac8d2" stroke-width="2.6"/>
<line x1="929.0" y1="1193.8" x2="929.0" y2="1203.8" stroke="#5ac8d2" stroke-width="2.6"/>
<line x1="960.8" y1="1206.0" x2="960.8" y2="1216.0" stroke="#5ac8d2" stroke-width="2.6"/>
<line x1="992.6" y1="1195.1" x2="992.6" y2="1205.1" stroke="#5ac8d2" stroke-width="2.6"/>
<line x1="1045.7" y1="1197.2" x2="1045.7" y2="1207.2" stroke="#5ac8d2" stroke-width="2.6"/>
<line x1="1162.4" y1="1208.1" x2="1162.4" y2="1218.1" stroke="#5ac8d2" stroke-width="2.6"/>
<line x1="1236.7" y1="1201.2" x2="1236.7" y2="1211.2" stroke="#5ac8d2" stroke-width="2.6"/>
<line x1="1247.3" y1="1209.7" x2="1247.3" y2="1219.7" stroke="#5ac8d2" stroke-width="2.6"/>
<line x1="1328.7" y1="1192.9" x2="1328.7" y2="1202.9" stroke="#5ac8d2" stroke-width="2.6"/>
<line x1="1364.1" y1="1202.3" x2="1364.1" y2="1212.3" stroke="#5ac8d2" stroke-width="2.6"/>
<text transform="translate(421.80,1194.47) rotate(-90) scale(0.7320,1)" style='font-family:"Liberation Mono", monospace;font-weight:normal;font-size:28.55px;font-kerning:none' fill="#94c07c" stroke="#94c07c" stroke-width="0.5">2.897</text>
<text transform="translate(477.80,1192.02) rotate(-90) scale(0.7421,1)" style='font-family:"Liberation Mono", monospace;font-weight:normal;font-size:28.55px;font-kerning:none' fill="#94c07c" stroke="#94c07c" stroke-width="0.5">3.703</text>
<text transform="translate(825.00,1171.47) rotate(-90) scale(0.7259,1)" style='font-family:"Liberation Mono", monospace;font-weight:normal;font-size:29.00px;font-kerning:none' fill="#94c07c" stroke="#94c07c" stroke-width="0.5">8.600</text>
<text transform="translate(904.20,1133.10) rotate(-90) scale(0.6592,1)" style='font-family:"Liberation Mono", monospace;font-weight:normal;font-size:30.94px;font-kerning:none' fill="#94c07c" stroke="#94c07c" stroke-width="0.5">9.723</text>
<text transform="translate(984.70,1186.35) rotate(-90) scale(0.7383,1)" style='font-family:"Liberation Mono", monospace;font-weight:normal;font-size:27.20px;font-kerning:none' fill="#94c07c" stroke="#94c07c" stroke-width="0.5">10.877</text>
<text transform="translate(1023.70,1152.57) rotate(-90) scale(0.7468,1)" style='font-family:"Liberation Mono", monospace;font-weight:normal;font-size:27.20px;font-kerning:none' fill="#94c07c" stroke="#94c07c" stroke-width="0.5">11.417</text>
<text transform="translate(1198.00,1061.47) rotate(-90) scale(0.7220,1)" style='font-family:"Liberation Mono", monospace;font-weight:normal;font-size:28.10px;font-kerning:none' fill="#94c07c" stroke="#94c07c" stroke-width="0.5">13.883</text>
<text transform="translate(1299.40,1127.72) rotate(-90) scale(0.6905,1)" style='font-family:"Liberation Mono", monospace;font-weight:normal;font-size:30.49px;font-kerning:none' fill="#94c07c" stroke="#94c07c" stroke-width="0.5">15.300</text>
<text transform="translate(582.00,797.30) rotate(-90) scale(0.7350,1)" style='font-family:"Liberation Mono", monospace;font-weight:normal;font-size:28.40px;font-kerning:none' fill="#94c07c" opacity="0.45">5.153</text>
<text transform="translate(935.49,981.40) scale(0.9688,1)" style='font-family:"Liberation Serif", serif;font-weight:bold;font-size:35.73px;font-kerning:none' fill="#d40000" >D-Fructose</text>
<path d="M1005.6,1000.4 H1014 V1049.9 H1021.9 L1009.8,1073.2 L997.7,1049.9 H1005.6 Z" fill="#d40000"/>
<text transform="translate(1216.39,952.70) scale(1.0157,1)" style='font-family:"Liberation Serif", serif;font-weight:bold;font-size:34.20px;font-kerning:none' fill="#0000f0" >D-Allulose</text>
<path d="M1284.5,971.6 H1292.6 V1020.8 H1300.7 L1288.6,1043.7 L1276.4,1020.8 H1284.5 Z" fill="#0000f0"/>
</svg></body></html>
